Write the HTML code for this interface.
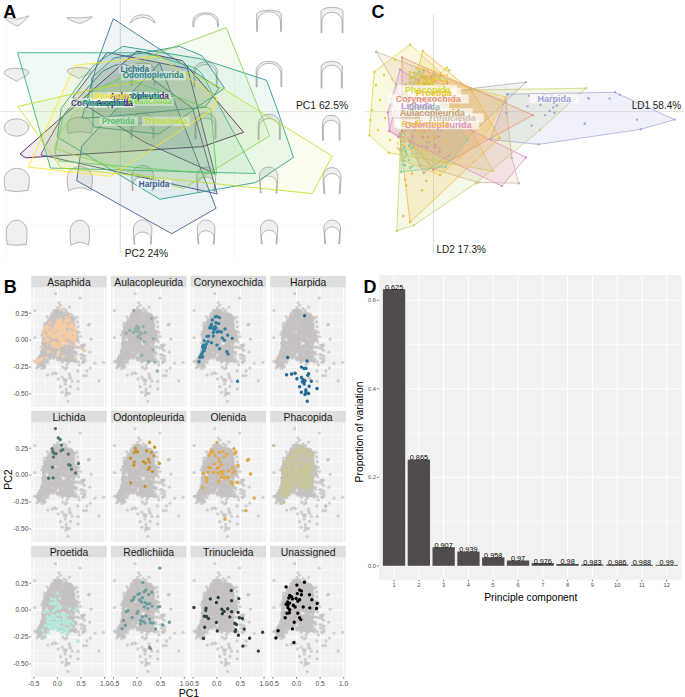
<!DOCTYPE html>
<html><head><meta charset="utf-8"><style>
html,body{margin:0;padding:0;background:#fff;overflow:hidden;}
svg{display:block;}
text{font-family:"Liberation Sans",sans-serif;}
</style></head><body>
<svg width="685" height="697" viewBox="0 0 685 697" font-family="Liberation Sans, sans-serif">
<defs><g id="cloud" fill="#c6c2c2" fill-opacity="0.75"><circle cx="29.5" cy="40.6" r="1.65"/><circle cx="31.7" cy="42.8" r="1.65"/><circle cx="17.0" cy="72.1" r="1.65"/><circle cx="35.1" cy="41.1" r="1.65"/><circle cx="37.4" cy="44.9" r="1.65"/><circle cx="17.3" cy="56.0" r="1.65"/><circle cx="24.9" cy="36.0" r="1.65"/><circle cx="13.4" cy="55.2" r="1.65"/><circle cx="40.1" cy="35.2" r="1.65"/><circle cx="23.0" cy="68.0" r="1.65"/><circle cx="42.1" cy="55.1" r="1.65"/><circle cx="38.2" cy="56.6" r="1.65"/><circle cx="31.9" cy="46.9" r="1.65"/><circle cx="26.1" cy="61.5" r="1.65"/><circle cx="21.2" cy="61.8" r="1.65"/><circle cx="15.3" cy="44.1" r="1.65"/><circle cx="12.8" cy="48.9" r="1.65"/><circle cx="32.4" cy="33.4" r="1.65"/><circle cx="20.3" cy="54.6" r="1.65"/><circle cx="28.4" cy="58.2" r="1.65"/><circle cx="21.6" cy="42.9" r="1.65"/><circle cx="33.8" cy="25.4" r="1.65"/><circle cx="25.6" cy="48.9" r="1.65"/><circle cx="18.8" cy="33.5" r="1.65"/><circle cx="29.1" cy="25.3" r="1.65"/><circle cx="14.4" cy="40.7" r="1.65"/><circle cx="9.2" cy="69.0" r="1.65"/><circle cx="29.3" cy="69.5" r="1.65"/><circle cx="12.5" cy="51.2" r="1.65"/><circle cx="14.3" cy="63.5" r="1.65"/><circle cx="46.2" cy="48.6" r="1.65"/><circle cx="35.9" cy="71.0" r="1.65"/><circle cx="41.3" cy="48.5" r="1.65"/><circle cx="9.8" cy="70.2" r="1.65"/><circle cx="18.3" cy="71.1" r="1.65"/><circle cx="39.9" cy="26.9" r="1.65"/><circle cx="8.0" cy="72.9" r="1.65"/><circle cx="19.3" cy="53.4" r="1.65"/><circle cx="13.2" cy="56.1" r="1.65"/><circle cx="14.3" cy="44.3" r="1.65"/><circle cx="7.2" cy="78.7" r="1.65"/><circle cx="19.5" cy="47.1" r="1.65"/><circle cx="27.6" cy="52.2" r="1.65"/><circle cx="24.2" cy="27.8" r="1.65"/><circle cx="39.9" cy="54.0" r="1.65"/><circle cx="17.9" cy="51.3" r="1.65"/><circle cx="30.5" cy="69.9" r="1.65"/><circle cx="42.5" cy="50.5" r="1.65"/><circle cx="30.9" cy="68.2" r="1.65"/><circle cx="33.7" cy="50.4" r="1.65"/><circle cx="28.2" cy="63.5" r="1.65"/><circle cx="24.9" cy="52.3" r="1.65"/><circle cx="21.9" cy="49.1" r="1.65"/><circle cx="28.4" cy="38.7" r="1.65"/><circle cx="30.5" cy="45.8" r="1.65"/><circle cx="34.3" cy="50.9" r="1.65"/><circle cx="31.4" cy="64.0" r="1.65"/><circle cx="37.9" cy="44.8" r="1.65"/><circle cx="34.9" cy="71.1" r="1.65"/><circle cx="25.0" cy="38.7" r="1.65"/><circle cx="29.0" cy="31.7" r="1.65"/><circle cx="17.2" cy="36.4" r="1.65"/><circle cx="41.8" cy="35.3" r="1.65"/><circle cx="27.5" cy="27.5" r="1.65"/><circle cx="40.3" cy="53.6" r="1.65"/><circle cx="45.0" cy="45.3" r="1.65"/><circle cx="21.6" cy="50.5" r="1.65"/><circle cx="38.9" cy="59.5" r="1.65"/><circle cx="22.3" cy="39.3" r="1.65"/><circle cx="16.1" cy="47.2" r="1.65"/><circle cx="17.0" cy="40.0" r="1.65"/><circle cx="26.1" cy="50.2" r="1.65"/><circle cx="32.2" cy="52.0" r="1.65"/><circle cx="41.3" cy="61.0" r="1.65"/><circle cx="21.4" cy="37.8" r="1.65"/><circle cx="39.8" cy="60.0" r="1.65"/><circle cx="40.4" cy="71.9" r="1.65"/><circle cx="37.6" cy="63.5" r="1.65"/><circle cx="5.8" cy="73.5" r="1.65"/><circle cx="30.7" cy="58.9" r="1.65"/><circle cx="34.4" cy="62.6" r="1.65"/><circle cx="27.7" cy="52.5" r="1.65"/><circle cx="40.5" cy="32.7" r="1.65"/><circle cx="40.1" cy="29.4" r="1.65"/><circle cx="27.2" cy="41.8" r="1.65"/><circle cx="26.3" cy="62.9" r="1.65"/><circle cx="42.2" cy="58.2" r="1.65"/><circle cx="40.9" cy="36.3" r="1.65"/><circle cx="37.0" cy="63.5" r="1.65"/><circle cx="37.2" cy="35.4" r="1.65"/><circle cx="28.4" cy="47.5" r="1.65"/><circle cx="25.6" cy="23.3" r="1.65"/><circle cx="24.7" cy="33.8" r="1.65"/><circle cx="11.6" cy="55.7" r="1.65"/><circle cx="45.1" cy="50.6" r="1.65"/><circle cx="12.7" cy="77.8" r="1.65"/><circle cx="24.8" cy="36.1" r="1.65"/><circle cx="20.5" cy="42.5" r="1.65"/><circle cx="19.8" cy="45.0" r="1.65"/><circle cx="5.6" cy="73.4" r="1.65"/><circle cx="28.1" cy="28.3" r="1.65"/><circle cx="40.3" cy="46.6" r="1.65"/><circle cx="41.4" cy="60.1" r="1.65"/><circle cx="26.0" cy="39.1" r="1.65"/><circle cx="16.4" cy="66.7" r="1.65"/><circle cx="36.1" cy="36.1" r="1.65"/><circle cx="30.7" cy="42.6" r="1.65"/><circle cx="11.4" cy="78.4" r="1.65"/><circle cx="27.3" cy="30.4" r="1.65"/><circle cx="24.7" cy="24.8" r="1.65"/><circle cx="41.2" cy="43.9" r="1.65"/><circle cx="22.8" cy="51.7" r="1.65"/><circle cx="20.7" cy="38.7" r="1.65"/><circle cx="27.7" cy="59.1" r="1.65"/><circle cx="22.0" cy="46.2" r="1.65"/><circle cx="28.7" cy="62.7" r="1.65"/><circle cx="35.6" cy="68.5" r="1.65"/><circle cx="25.2" cy="53.6" r="1.65"/><circle cx="35.5" cy="36.3" r="1.65"/><circle cx="35.0" cy="63.9" r="1.65"/><circle cx="28.8" cy="55.8" r="1.65"/><circle cx="21.3" cy="30.7" r="1.65"/><circle cx="16.6" cy="47.2" r="1.65"/><circle cx="27.4" cy="62.2" r="1.65"/><circle cx="23.1" cy="33.0" r="1.65"/><circle cx="18.6" cy="44.4" r="1.65"/><circle cx="37.5" cy="28.9" r="1.65"/><circle cx="27.8" cy="29.4" r="1.65"/><circle cx="12.2" cy="68.2" r="1.65"/><circle cx="27.3" cy="28.1" r="1.65"/><circle cx="36.5" cy="41.5" r="1.65"/><circle cx="20.6" cy="38.2" r="1.65"/><circle cx="15.4" cy="39.6" r="1.65"/><circle cx="45.2" cy="45.3" r="1.65"/><circle cx="18.6" cy="34.1" r="1.65"/><circle cx="14.4" cy="65.2" r="1.65"/><circle cx="17.4" cy="34.3" r="1.65"/><circle cx="12.9" cy="48.3" r="1.65"/><circle cx="21.3" cy="32.6" r="1.65"/><circle cx="23.6" cy="49.5" r="1.65"/><circle cx="33.4" cy="37.9" r="1.65"/><circle cx="17.6" cy="40.3" r="1.65"/><circle cx="10.9" cy="67.7" r="1.65"/><circle cx="39.0" cy="46.3" r="1.65"/><circle cx="12.9" cy="44.2" r="1.65"/><circle cx="34.1" cy="62.2" r="1.65"/><circle cx="31.2" cy="41.1" r="1.65"/><circle cx="40.6" cy="28.9" r="1.65"/><circle cx="8.4" cy="76.9" r="1.65"/><circle cx="31.8" cy="37.8" r="1.65"/><circle cx="27.9" cy="31.2" r="1.65"/><circle cx="14.3" cy="69.4" r="1.65"/><circle cx="32.8" cy="58.4" r="1.65"/><circle cx="14.0" cy="57.0" r="1.65"/><circle cx="35.8" cy="29.2" r="1.65"/><circle cx="37.3" cy="28.0" r="1.65"/><circle cx="43.7" cy="53.4" r="1.65"/><circle cx="21.7" cy="53.5" r="1.65"/><circle cx="22.5" cy="34.8" r="1.65"/><circle cx="17.2" cy="54.7" r="1.65"/><circle cx="19.6" cy="44.2" r="1.65"/><circle cx="20.0" cy="28.8" r="1.65"/><circle cx="40.0" cy="29.3" r="1.65"/><circle cx="25.3" cy="26.4" r="1.65"/><circle cx="20.4" cy="50.3" r="1.65"/><circle cx="43.2" cy="30.5" r="1.65"/><circle cx="28.5" cy="41.9" r="1.65"/><circle cx="33.0" cy="53.5" r="1.65"/><circle cx="34.5" cy="36.4" r="1.65"/><circle cx="23.1" cy="55.8" r="1.65"/><circle cx="23.4" cy="61.1" r="1.65"/><circle cx="24.6" cy="45.7" r="1.65"/><circle cx="26.9" cy="31.5" r="1.65"/><circle cx="42.0" cy="69.6" r="1.65"/><circle cx="25.2" cy="27.6" r="1.65"/><circle cx="26.0" cy="22.5" r="1.65"/><circle cx="40.3" cy="69.4" r="1.65"/><circle cx="27.7" cy="41.5" r="1.65"/><circle cx="40.3" cy="72.0" r="1.65"/><circle cx="27.8" cy="37.3" r="1.65"/><circle cx="9.3" cy="69.9" r="1.65"/><circle cx="35.0" cy="40.2" r="1.65"/><circle cx="34.6" cy="42.6" r="1.65"/><circle cx="19.8" cy="68.5" r="1.65"/><circle cx="24.3" cy="27.4" r="1.65"/><circle cx="32.2" cy="61.5" r="1.65"/><circle cx="33.9" cy="45.3" r="1.65"/><circle cx="12.3" cy="55.9" r="1.65"/><circle cx="32.4" cy="29.3" r="1.65"/><circle cx="34.3" cy="48.2" r="1.65"/><circle cx="22.1" cy="33.5" r="1.65"/><circle cx="30.9" cy="39.5" r="1.65"/><circle cx="35.5" cy="46.1" r="1.65"/><circle cx="22.3" cy="31.6" r="1.65"/><circle cx="27.9" cy="59.9" r="1.65"/><circle cx="17.0" cy="36.0" r="1.65"/><circle cx="43.1" cy="65.1" r="1.65"/><circle cx="41.0" cy="47.6" r="1.65"/><circle cx="40.8" cy="46.7" r="1.65"/><circle cx="18.5" cy="67.5" r="1.65"/><circle cx="39.1" cy="33.6" r="1.65"/><circle cx="30.5" cy="45.5" r="1.65"/><circle cx="43.4" cy="51.6" r="1.65"/><circle cx="14.6" cy="59.9" r="1.65"/><circle cx="41.0" cy="37.9" r="1.65"/><circle cx="34.7" cy="63.5" r="1.65"/><circle cx="24.0" cy="65.7" r="1.65"/><circle cx="31.4" cy="36.5" r="1.65"/><circle cx="11.7" cy="58.6" r="1.65"/><circle cx="38.1" cy="59.4" r="1.65"/><circle cx="38.3" cy="66.6" r="1.65"/><circle cx="34.9" cy="72.8" r="1.65"/><circle cx="34.7" cy="35.1" r="1.65"/><circle cx="41.7" cy="29.3" r="1.65"/><circle cx="17.6" cy="44.7" r="1.65"/><circle cx="15.5" cy="65.1" r="1.65"/><circle cx="20.2" cy="37.5" r="1.65"/><circle cx="24.0" cy="69.1" r="1.65"/><circle cx="19.1" cy="64.3" r="1.65"/><circle cx="29.6" cy="30.2" r="1.65"/><circle cx="27.0" cy="70.8" r="1.65"/><circle cx="38.5" cy="49.9" r="1.65"/><circle cx="38.3" cy="70.1" r="1.65"/><circle cx="34.5" cy="39.9" r="1.65"/><circle cx="22.1" cy="42.6" r="1.65"/><circle cx="12.8" cy="47.3" r="1.65"/><circle cx="29.2" cy="67.8" r="1.65"/><circle cx="41.4" cy="60.2" r="1.65"/><circle cx="19.2" cy="37.9" r="1.65"/><circle cx="8.5" cy="74.0" r="1.65"/><circle cx="36.4" cy="66.9" r="1.65"/><circle cx="42.5" cy="55.5" r="1.65"/><circle cx="28.7" cy="26.3" r="1.65"/><circle cx="40.3" cy="45.4" r="1.65"/><circle cx="38.1" cy="50.0" r="1.65"/><circle cx="34.8" cy="47.4" r="1.65"/><circle cx="22.3" cy="66.9" r="1.65"/><circle cx="31.6" cy="67.4" r="1.65"/><circle cx="23.2" cy="31.0" r="1.65"/><circle cx="42.6" cy="64.0" r="1.65"/><circle cx="35.3" cy="46.8" r="1.65"/><circle cx="17.2" cy="59.0" r="1.65"/><circle cx="43.0" cy="64.9" r="1.65"/><circle cx="34.6" cy="32.5" r="1.65"/><circle cx="23.3" cy="46.9" r="1.65"/><circle cx="34.2" cy="43.7" r="1.65"/><circle cx="42.8" cy="42.2" r="1.65"/><circle cx="8.8" cy="69.7" r="1.65"/><circle cx="29.8" cy="65.2" r="1.65"/><circle cx="28.2" cy="59.7" r="1.65"/><circle cx="45.6" cy="51.5" r="1.65"/><circle cx="11.6" cy="62.9" r="1.65"/><circle cx="21.6" cy="68.4" r="1.65"/><circle cx="15.1" cy="43.0" r="1.65"/><circle cx="23.1" cy="63.9" r="1.65"/><circle cx="19.4" cy="33.6" r="1.65"/><circle cx="12.3" cy="66.9" r="1.65"/><circle cx="12.0" cy="71.1" r="1.65"/><circle cx="21.6" cy="29.8" r="1.65"/><circle cx="25.8" cy="54.3" r="1.65"/><circle cx="19.4" cy="59.7" r="1.65"/><circle cx="25.7" cy="35.6" r="1.65"/><circle cx="30.2" cy="23.8" r="1.65"/><circle cx="20.7" cy="32.7" r="1.65"/><circle cx="23.4" cy="28.0" r="1.65"/><circle cx="16.6" cy="48.6" r="1.65"/><circle cx="23.6" cy="59.6" r="1.65"/><circle cx="36.3" cy="40.4" r="1.65"/><circle cx="7.7" cy="73.2" r="1.65"/><circle cx="36.1" cy="32.5" r="1.65"/><circle cx="12.9" cy="69.3" r="1.65"/><circle cx="9.2" cy="77.4" r="1.65"/><circle cx="33.5" cy="69.7" r="1.65"/><circle cx="10.9" cy="63.5" r="1.65"/><circle cx="29.2" cy="66.9" r="1.65"/><circle cx="30.5" cy="33.5" r="1.65"/><circle cx="25.7" cy="25.1" r="1.65"/><circle cx="27.0" cy="49.9" r="1.65"/><circle cx="25.7" cy="54.4" r="1.65"/><circle cx="20.6" cy="44.3" r="1.65"/><circle cx="35.0" cy="59.5" r="1.65"/><circle cx="28.1" cy="48.9" r="1.65"/><circle cx="39.5" cy="58.8" r="1.65"/><circle cx="20.1" cy="48.2" r="1.65"/><circle cx="28.9" cy="68.9" r="1.65"/><circle cx="23.2" cy="53.8" r="1.65"/><circle cx="45.5" cy="43.3" r="1.65"/><circle cx="27.7" cy="34.0" r="1.65"/><circle cx="36.0" cy="70.4" r="1.65"/><circle cx="18.2" cy="37.2" r="1.65"/><circle cx="16.5" cy="56.1" r="1.65"/><circle cx="34.9" cy="69.9" r="1.65"/><circle cx="36.2" cy="70.2" r="1.65"/><circle cx="33.9" cy="58.9" r="1.65"/><circle cx="38.3" cy="56.7" r="1.65"/><circle cx="37.5" cy="29.9" r="1.65"/><circle cx="36.7" cy="47.1" r="1.65"/><circle cx="36.1" cy="40.8" r="1.65"/><circle cx="30.9" cy="33.1" r="1.65"/><circle cx="16.6" cy="44.5" r="1.65"/><circle cx="17.5" cy="45.1" r="1.65"/><circle cx="35.4" cy="29.9" r="1.65"/><circle cx="39.6" cy="32.0" r="1.65"/><circle cx="40.3" cy="28.1" r="1.65"/><circle cx="34.6" cy="64.6" r="1.65"/><circle cx="17.1" cy="66.1" r="1.65"/><circle cx="9.1" cy="75.3" r="1.65"/><circle cx="20.2" cy="55.2" r="1.65"/><circle cx="24.1" cy="62.4" r="1.65"/><circle cx="8.0" cy="70.8" r="1.65"/><circle cx="20.0" cy="60.1" r="1.65"/><circle cx="34.6" cy="44.3" r="1.65"/><circle cx="31.2" cy="35.5" r="1.65"/><circle cx="38.7" cy="72.9" r="1.65"/><circle cx="18.3" cy="57.4" r="1.65"/><circle cx="33.1" cy="36.6" r="1.65"/><circle cx="20.7" cy="62.9" r="1.65"/><circle cx="23.2" cy="56.1" r="1.65"/><circle cx="31.5" cy="34.2" r="1.65"/><circle cx="30.5" cy="70.8" r="1.65"/><circle cx="11.0" cy="67.5" r="1.65"/><circle cx="33.4" cy="62.4" r="1.65"/><circle cx="25.6" cy="29.5" r="1.65"/><circle cx="14.0" cy="67.6" r="1.65"/><circle cx="43.5" cy="47.2" r="1.65"/><circle cx="42.5" cy="31.3" r="1.65"/><circle cx="26.2" cy="56.3" r="1.65"/><circle cx="20.0" cy="54.5" r="1.65"/><circle cx="22.1" cy="51.2" r="1.65"/><circle cx="32.8" cy="39.1" r="1.65"/><circle cx="31.2" cy="33.3" r="1.65"/><circle cx="42.9" cy="44.8" r="1.65"/><circle cx="32.9" cy="42.8" r="1.65"/><circle cx="14.1" cy="54.5" r="1.65"/><circle cx="36.8" cy="42.5" r="1.65"/><circle cx="24.7" cy="26.2" r="1.65"/><circle cx="14.1" cy="39.6" r="1.65"/><circle cx="37.2" cy="35.9" r="1.65"/><circle cx="32.5" cy="68.1" r="1.65"/><circle cx="26.5" cy="26.8" r="1.65"/><circle cx="39.4" cy="28.7" r="1.65"/><circle cx="24.9" cy="38.8" r="1.65"/><circle cx="45.3" cy="48.4" r="1.65"/><circle cx="34.6" cy="25.0" r="1.65"/><circle cx="39.3" cy="53.7" r="1.65"/><circle cx="8.0" cy="76.0" r="1.65"/><circle cx="14.7" cy="43.8" r="1.65"/><circle cx="36.8" cy="29.8" r="1.65"/><circle cx="26.3" cy="35.0" r="1.65"/><circle cx="40.0" cy="35.5" r="1.65"/><circle cx="45.8" cy="51.9" r="1.65"/><circle cx="31.4" cy="24.7" r="1.65"/><circle cx="9.9" cy="68.9" r="1.65"/><circle cx="39.1" cy="28.8" r="1.65"/><circle cx="33.5" cy="49.7" r="1.65"/><circle cx="33.7" cy="64.5" r="1.65"/><circle cx="40.3" cy="43.6" r="1.65"/><circle cx="10.2" cy="73.2" r="1.65"/><circle cx="20.4" cy="56.6" r="1.65"/><circle cx="24.5" cy="51.1" r="1.65"/><circle cx="17.7" cy="64.8" r="1.65"/><circle cx="21.0" cy="67.6" r="1.65"/><circle cx="28.2" cy="52.1" r="1.65"/><circle cx="13.8" cy="72.2" r="1.65"/><circle cx="38.4" cy="28.7" r="1.65"/><circle cx="31.7" cy="51.6" r="1.65"/><circle cx="27.1" cy="50.1" r="1.65"/><circle cx="21.4" cy="44.4" r="1.65"/><circle cx="46.2" cy="51.8" r="1.65"/><circle cx="42.7" cy="38.7" r="1.65"/><circle cx="13.7" cy="44.5" r="1.65"/><circle cx="34.8" cy="40.5" r="1.65"/><circle cx="23.8" cy="50.3" r="1.65"/><circle cx="35.3" cy="33.6" r="1.65"/><circle cx="37.3" cy="34.1" r="1.65"/><circle cx="34.2" cy="32.5" r="1.65"/><circle cx="28.6" cy="45.4" r="1.65"/><circle cx="16.8" cy="60.3" r="1.65"/><circle cx="14.8" cy="47.6" r="1.65"/><circle cx="29.4" cy="25.4" r="1.65"/><circle cx="16.1" cy="43.5" r="1.65"/><circle cx="31.4" cy="60.5" r="1.65"/><circle cx="11.1" cy="64.7" r="1.65"/><circle cx="25.3" cy="53.4" r="1.65"/><circle cx="33.7" cy="47.8" r="1.65"/><circle cx="12.2" cy="50.9" r="1.65"/><circle cx="21.1" cy="56.0" r="1.65"/><circle cx="30.6" cy="49.4" r="1.65"/><circle cx="16.3" cy="69.0" r="1.65"/><circle cx="24.2" cy="66.5" r="1.65"/><circle cx="19.4" cy="62.3" r="1.65"/><circle cx="45.2" cy="51.2" r="1.65"/><circle cx="40.6" cy="67.0" r="1.65"/><circle cx="41.8" cy="48.3" r="1.65"/><circle cx="42.1" cy="56.0" r="1.65"/><circle cx="31.5" cy="44.3" r="1.65"/><circle cx="33.4" cy="41.6" r="1.65"/><circle cx="24.9" cy="47.1" r="1.65"/><circle cx="39.8" cy="35.5" r="1.65"/><circle cx="21.5" cy="53.9" r="1.65"/><circle cx="21.1" cy="37.5" r="1.65"/><circle cx="27.5" cy="46.1" r="1.65"/><circle cx="31.1" cy="49.8" r="1.65"/><circle cx="28.5" cy="51.2" r="1.65"/><circle cx="37.7" cy="42.3" r="1.65"/><circle cx="19.7" cy="56.6" r="1.65"/><circle cx="37.2" cy="51.8" r="1.65"/><circle cx="22.0" cy="54.3" r="1.65"/><circle cx="24.2" cy="58.7" r="1.65"/><circle cx="29.2" cy="72.1" r="1.65"/><circle cx="28.2" cy="22.7" r="1.65"/><circle cx="28.1" cy="50.3" r="1.65"/><circle cx="34.7" cy="57.2" r="1.65"/><circle cx="16.9" cy="63.3" r="1.65"/><circle cx="36.7" cy="28.8" r="1.65"/><circle cx="27.4" cy="53.7" r="1.65"/><circle cx="14.6" cy="60.3" r="1.65"/><circle cx="31.6" cy="43.8" r="1.65"/><circle cx="33.7" cy="71.5" r="1.65"/><circle cx="42.4" cy="37.6" r="1.65"/><circle cx="39.4" cy="39.8" r="1.65"/><circle cx="32.0" cy="39.4" r="1.65"/><circle cx="24.7" cy="42.0" r="1.65"/><circle cx="24.2" cy="58.4" r="1.65"/><circle cx="13.4" cy="42.3" r="1.65"/><circle cx="39.5" cy="30.5" r="1.65"/><circle cx="26.6" cy="70.5" r="1.65"/><circle cx="29.4" cy="42.0" r="1.65"/><circle cx="6.8" cy="72.8" r="1.65"/><circle cx="19.3" cy="32.1" r="1.65"/><circle cx="36.5" cy="38.9" r="1.65"/><circle cx="19.4" cy="65.6" r="1.65"/><circle cx="27.8" cy="30.9" r="1.65"/><circle cx="24.9" cy="24.2" r="1.65"/><circle cx="38.9" cy="33.3" r="1.65"/><circle cx="20.2" cy="32.2" r="1.65"/><circle cx="33.5" cy="29.9" r="1.65"/><circle cx="28.2" cy="53.0" r="1.65"/><circle cx="14.9" cy="69.0" r="1.65"/><circle cx="21.2" cy="61.0" r="1.65"/><circle cx="31.2" cy="36.8" r="1.65"/><circle cx="9.7" cy="74.6" r="1.65"/><circle cx="17.7" cy="61.4" r="1.65"/><circle cx="19.9" cy="50.0" r="1.65"/><circle cx="15.5" cy="43.2" r="1.65"/><circle cx="36.5" cy="39.6" r="1.65"/><circle cx="22.7" cy="61.1" r="1.65"/><circle cx="38.5" cy="32.4" r="1.65"/><circle cx="34.6" cy="27.7" r="1.65"/><circle cx="40.4" cy="64.9" r="1.65"/><circle cx="16.7" cy="41.7" r="1.65"/><circle cx="35.1" cy="27.6" r="1.65"/><circle cx="39.4" cy="32.8" r="1.65"/><circle cx="23.9" cy="62.9" r="1.65"/><circle cx="38.2" cy="42.6" r="1.65"/><circle cx="41.1" cy="73.0" r="1.65"/><circle cx="40.6" cy="73.1" r="1.65"/><circle cx="34.5" cy="46.7" r="1.65"/><circle cx="23.6" cy="50.8" r="1.65"/><circle cx="38.7" cy="71.4" r="1.65"/><circle cx="14.4" cy="53.2" r="1.65"/><circle cx="29.9" cy="32.5" r="1.65"/><circle cx="22.6" cy="29.1" r="1.65"/><circle cx="38.9" cy="61.9" r="1.65"/><circle cx="28.3" cy="46.2" r="1.65"/><circle cx="30.2" cy="68.2" r="1.65"/><circle cx="32.9" cy="47.3" r="1.65"/><circle cx="19.8" cy="29.5" r="1.65"/><circle cx="10.8" cy="64.1" r="1.65"/><circle cx="24.6" cy="22.9" r="1.65"/><circle cx="17.8" cy="47.8" r="1.65"/><circle cx="23.9" cy="28.3" r="1.65"/><circle cx="35.9" cy="32.6" r="1.65"/><circle cx="9.3" cy="69.9" r="1.65"/><circle cx="20.3" cy="53.6" r="1.65"/><circle cx="31.2" cy="59.0" r="1.65"/><circle cx="27.2" cy="50.0" r="1.65"/><circle cx="37.8" cy="26.5" r="1.65"/><circle cx="24.2" cy="28.4" r="1.65"/><circle cx="43.3" cy="44.8" r="1.65"/><circle cx="15.6" cy="61.3" r="1.65"/><circle cx="28.3" cy="44.5" r="1.65"/><circle cx="18.6" cy="45.7" r="1.65"/><circle cx="36.6" cy="72.8" r="1.65"/><circle cx="16.3" cy="46.0" r="1.65"/><circle cx="31.0" cy="39.4" r="1.65"/><circle cx="17.8" cy="47.2" r="1.65"/><circle cx="37.2" cy="57.6" r="1.65"/><circle cx="16.3" cy="55.0" r="1.65"/><circle cx="35.6" cy="36.0" r="1.65"/><circle cx="37.3" cy="46.3" r="1.65"/><circle cx="20.5" cy="55.7" r="1.65"/><circle cx="22.9" cy="52.1" r="1.65"/><circle cx="31.1" cy="42.7" r="1.65"/><circle cx="6.2" cy="75.4" r="1.65"/><circle cx="29.2" cy="32.6" r="1.65"/><circle cx="26.9" cy="53.8" r="1.65"/><circle cx="12.5" cy="55.1" r="1.65"/><circle cx="30.3" cy="65.0" r="1.65"/><circle cx="21.6" cy="27.0" r="1.65"/><circle cx="38.9" cy="44.8" r="1.65"/><circle cx="9.2" cy="67.2" r="1.65"/><circle cx="18.8" cy="68.5" r="1.65"/><circle cx="37.4" cy="72.8" r="1.65"/><circle cx="30.2" cy="71.2" r="1.65"/><circle cx="37.1" cy="32.8" r="1.65"/><circle cx="16.0" cy="63.1" r="1.65"/><circle cx="37.9" cy="71.6" r="1.65"/><circle cx="10.0" cy="72.3" r="1.65"/><circle cx="37.4" cy="42.5" r="1.65"/><circle cx="26.2" cy="26.1" r="1.65"/><circle cx="11.9" cy="77.6" r="1.65"/><circle cx="25.7" cy="55.4" r="1.65"/><circle cx="21.3" cy="39.8" r="1.65"/><circle cx="36.9" cy="34.1" r="1.65"/><circle cx="15.0" cy="50.0" r="1.65"/><circle cx="14.4" cy="54.8" r="1.65"/><circle cx="30.8" cy="69.0" r="1.65"/><circle cx="34.8" cy="59.4" r="1.65"/><circle cx="20.0" cy="34.7" r="1.65"/><circle cx="16.7" cy="68.4" r="1.65"/><circle cx="40.7" cy="50.6" r="1.65"/><circle cx="34.9" cy="39.5" r="1.65"/><circle cx="30.3" cy="43.4" r="1.65"/><circle cx="26.5" cy="40.7" r="1.65"/><circle cx="24.9" cy="46.2" r="1.65"/><circle cx="31.3" cy="36.2" r="1.65"/><circle cx="16.6" cy="36.6" r="1.65"/><circle cx="40.0" cy="53.6" r="1.65"/><circle cx="19.6" cy="69.2" r="1.65"/><circle cx="38.7" cy="30.3" r="1.65"/><circle cx="22.0" cy="29.0" r="1.65"/><circle cx="35.6" cy="28.8" r="1.65"/><circle cx="18.0" cy="67.5" r="1.65"/><circle cx="35.7" cy="43.4" r="1.65"/><circle cx="37.3" cy="38.6" r="1.65"/><circle cx="18.4" cy="49.6" r="1.65"/><circle cx="32.9" cy="33.0" r="1.65"/><circle cx="33.8" cy="65.7" r="1.65"/><circle cx="44.8" cy="44.6" r="1.65"/><circle cx="29.6" cy="56.2" r="1.65"/><circle cx="30.5" cy="61.0" r="1.65"/><circle cx="33.1" cy="38.2" r="1.65"/><circle cx="40.8" cy="33.0" r="1.65"/><circle cx="39.1" cy="68.4" r="1.65"/><circle cx="42.7" cy="36.6" r="1.65"/><circle cx="24.9" cy="34.5" r="1.65"/><circle cx="26.2" cy="60.9" r="1.65"/><circle cx="42.6" cy="40.4" r="1.65"/><circle cx="30.5" cy="27.7" r="1.65"/><circle cx="42.8" cy="32.0" r="1.65"/><circle cx="35.0" cy="39.1" r="1.65"/><circle cx="44.0" cy="47.2" r="1.65"/><circle cx="14.4" cy="45.4" r="1.65"/><circle cx="41.8" cy="60.0" r="1.65"/><circle cx="11.9" cy="54.9" r="1.65"/><circle cx="8.6" cy="75.4" r="1.65"/><circle cx="41.3" cy="72.6" r="1.65"/><circle cx="15.5" cy="38.2" r="1.65"/><circle cx="32.9" cy="46.7" r="1.65"/><circle cx="11.5" cy="76.8" r="1.65"/><circle cx="19.8" cy="69.6" r="1.65"/><circle cx="12.9" cy="70.4" r="1.65"/><circle cx="27.8" cy="31.2" r="1.65"/><circle cx="27.5" cy="22.9" r="1.65"/><circle cx="19.4" cy="49.7" r="1.65"/><circle cx="22.4" cy="54.0" r="1.65"/><circle cx="37.8" cy="60.7" r="1.65"/><circle cx="29.9" cy="53.4" r="1.65"/><circle cx="22.0" cy="37.3" r="1.65"/><circle cx="21.3" cy="42.0" r="1.65"/><circle cx="22.5" cy="25.0" r="1.65"/><circle cx="14.0" cy="57.8" r="1.65"/><circle cx="20.7" cy="31.9" r="1.65"/><circle cx="38.2" cy="37.7" r="1.65"/><circle cx="35.5" cy="53.4" r="1.65"/><circle cx="12.9" cy="59.1" r="1.65"/><circle cx="40.9" cy="41.5" r="1.65"/><circle cx="39.2" cy="42.5" r="1.65"/><circle cx="28.9" cy="57.9" r="1.65"/><circle cx="37.2" cy="37.5" r="1.65"/><circle cx="34.6" cy="53.0" r="1.65"/><circle cx="12.3" cy="57.9" r="1.65"/><circle cx="26.0" cy="65.5" r="1.65"/><circle cx="28.7" cy="48.4" r="1.65"/><circle cx="28.8" cy="51.9" r="1.65"/><circle cx="9.5" cy="72.5" r="1.65"/><circle cx="25.3" cy="59.8" r="1.65"/><circle cx="44.2" cy="51.5" r="1.65"/><circle cx="38.2" cy="46.5" r="1.65"/><circle cx="26.3" cy="70.9" r="1.65"/><circle cx="37.4" cy="40.7" r="1.65"/><circle cx="28.6" cy="31.6" r="1.65"/><circle cx="20.4" cy="38.8" r="1.65"/><circle cx="39.5" cy="34.2" r="1.65"/><circle cx="17.8" cy="31.9" r="1.65"/><circle cx="24.3" cy="40.7" r="1.65"/><circle cx="39.2" cy="35.7" r="1.65"/><circle cx="22.4" cy="60.4" r="1.65"/><circle cx="21.2" cy="55.5" r="1.65"/><circle cx="20.5" cy="61.6" r="1.65"/><circle cx="41.6" cy="41.6" r="1.65"/><circle cx="28.9" cy="49.8" r="1.65"/><circle cx="25.4" cy="47.4" r="1.65"/><circle cx="24.2" cy="49.4" r="1.65"/><circle cx="36.9" cy="66.8" r="1.65"/><circle cx="37.4" cy="53.8" r="1.65"/><circle cx="42.3" cy="68.9" r="1.65"/><circle cx="41.4" cy="54.5" r="1.65"/><circle cx="39.1" cy="48.8" r="1.65"/><circle cx="23.0" cy="55.9" r="1.65"/><circle cx="18.4" cy="51.3" r="1.65"/><circle cx="17.2" cy="32.9" r="1.65"/><circle cx="28.1" cy="44.4" r="1.65"/><circle cx="29.5" cy="41.2" r="1.65"/><circle cx="25.5" cy="49.2" r="1.65"/><circle cx="32.1" cy="40.6" r="1.65"/><circle cx="29.3" cy="43.6" r="1.65"/><circle cx="31.1" cy="37.6" r="1.65"/><circle cx="15.0" cy="70.7" r="1.65"/><circle cx="16.0" cy="64.7" r="1.65"/><circle cx="32.8" cy="27.6" r="1.65"/><circle cx="44.0" cy="49.9" r="1.65"/><circle cx="37.1" cy="62.2" r="1.65"/><circle cx="22.8" cy="61.1" r="1.65"/><circle cx="32.0" cy="37.3" r="1.65"/><circle cx="30.8" cy="25.8" r="1.65"/><circle cx="20.9" cy="59.9" r="1.65"/><circle cx="12.3" cy="53.2" r="1.65"/><circle cx="40.1" cy="45.1" r="1.65"/><circle cx="16.0" cy="39.4" r="1.65"/><circle cx="41.3" cy="49.8" r="1.65"/><circle cx="32.9" cy="52.9" r="1.65"/><circle cx="18.3" cy="46.5" r="1.65"/><circle cx="13.6" cy="67.0" r="1.65"/><circle cx="9.8" cy="70.1" r="1.65"/><circle cx="30.3" cy="70.2" r="1.65"/><circle cx="32.8" cy="47.3" r="1.65"/><circle cx="19.4" cy="41.2" r="1.65"/><circle cx="36.5" cy="26.5" r="1.65"/><circle cx="27.3" cy="52.5" r="1.65"/><circle cx="27.9" cy="40.7" r="1.65"/><circle cx="13.2" cy="76.0" r="1.65"/><circle cx="26.9" cy="70.4" r="1.65"/><circle cx="31.4" cy="63.2" r="1.65"/><circle cx="12.6" cy="67.5" r="1.65"/><circle cx="28.5" cy="35.4" r="1.65"/><circle cx="31.8" cy="31.4" r="1.65"/><circle cx="32.7" cy="69.9" r="1.65"/><circle cx="13.5" cy="56.9" r="1.65"/><circle cx="34.0" cy="63.4" r="1.65"/><circle cx="44.6" cy="47.3" r="1.65"/><circle cx="13.5" cy="66.4" r="1.65"/><circle cx="26.4" cy="49.8" r="1.65"/><circle cx="41.3" cy="59.5" r="1.65"/><circle cx="32.5" cy="45.5" r="1.65"/><circle cx="13.9" cy="73.7" r="1.65"/><circle cx="25.2" cy="31.6" r="1.65"/><circle cx="37.7" cy="64.7" r="1.65"/><circle cx="35.9" cy="73.5" r="1.65"/><circle cx="18.7" cy="56.6" r="1.65"/><circle cx="44.7" cy="44.3" r="1.65"/><circle cx="33.3" cy="47.0" r="1.65"/><circle cx="34.1" cy="35.4" r="1.65"/><circle cx="38.6" cy="45.9" r="1.65"/><circle cx="36.4" cy="71.5" r="1.65"/><circle cx="12.3" cy="77.3" r="1.65"/><circle cx="21.7" cy="50.0" r="1.65"/><circle cx="19.9" cy="61.3" r="1.65"/><circle cx="34.8" cy="41.3" r="1.65"/><circle cx="28.7" cy="62.4" r="1.65"/><circle cx="37.6" cy="54.0" r="1.65"/><circle cx="24.6" cy="67.6" r="1.65"/><circle cx="21.6" cy="67.3" r="1.65"/><circle cx="35.3" cy="34.7" r="1.65"/><circle cx="41.9" cy="35.4" r="1.65"/><circle cx="29.9" cy="44.4" r="1.65"/><circle cx="39.0" cy="63.4" r="1.65"/><circle cx="31.6" cy="72.8" r="1.65"/><circle cx="16.4" cy="41.8" r="1.65"/><circle cx="17.6" cy="45.7" r="1.65"/><circle cx="21.7" cy="42.0" r="1.65"/><circle cx="11.2" cy="78.6" r="1.65"/><circle cx="35.0" cy="69.5" r="1.65"/><circle cx="41.6" cy="47.9" r="1.65"/><circle cx="30.7" cy="61.9" r="1.65"/><circle cx="41.4" cy="34.3" r="1.65"/><circle cx="29.1" cy="35.2" r="1.65"/><circle cx="34.7" cy="33.2" r="1.65"/><circle cx="41.5" cy="62.5" r="1.65"/><circle cx="34.9" cy="63.4" r="1.65"/><circle cx="42.6" cy="42.6" r="1.65"/><circle cx="18.8" cy="42.5" r="1.65"/><circle cx="10.2" cy="76.0" r="1.65"/><circle cx="29.2" cy="51.5" r="1.65"/><circle cx="36.7" cy="55.4" r="1.65"/><circle cx="22.2" cy="55.2" r="1.65"/><circle cx="15.1" cy="74.1" r="1.65"/><circle cx="41.5" cy="50.0" r="1.65"/><circle cx="40.9" cy="72.5" r="1.65"/><circle cx="38.7" cy="57.9" r="1.65"/><circle cx="33.2" cy="72.7" r="1.65"/><circle cx="30.5" cy="71.5" r="1.65"/><circle cx="34.6" cy="38.8" r="1.65"/><circle cx="18.2" cy="54.8" r="1.65"/><circle cx="12.0" cy="70.5" r="1.65"/><circle cx="11.5" cy="73.8" r="1.65"/><circle cx="44.5" cy="52.6" r="1.65"/><circle cx="34.7" cy="65.7" r="1.65"/><circle cx="32.2" cy="43.0" r="1.65"/><circle cx="28.2" cy="56.2" r="1.65"/><circle cx="12.4" cy="75.7" r="1.65"/><circle cx="26.3" cy="24.4" r="1.65"/><circle cx="25.0" cy="62.8" r="1.65"/><circle cx="39.0" cy="46.8" r="1.65"/><circle cx="22.2" cy="34.8" r="1.65"/><circle cx="10.7" cy="66.5" r="1.65"/><circle cx="28.4" cy="45.7" r="1.65"/><circle cx="10.9" cy="64.3" r="1.65"/><circle cx="30.8" cy="64.1" r="1.65"/><circle cx="39.7" cy="65.4" r="1.65"/><circle cx="39.7" cy="59.1" r="1.65"/><circle cx="14.5" cy="39.9" r="1.65"/><circle cx="44.2" cy="46.9" r="1.65"/><circle cx="8.5" cy="69.4" r="1.65"/><circle cx="31.0" cy="50.6" r="1.65"/><circle cx="40.3" cy="41.9" r="1.65"/><circle cx="11.8" cy="56.0" r="1.65"/><circle cx="26.6" cy="59.8" r="1.65"/><circle cx="25.1" cy="56.0" r="1.65"/><circle cx="35.0" cy="64.5" r="1.65"/><circle cx="25.9" cy="43.0" r="1.65"/><circle cx="37.0" cy="65.0" r="1.65"/><circle cx="13.2" cy="60.5" r="1.65"/><circle cx="38.1" cy="48.0" r="1.65"/><circle cx="7.8" cy="78.6" r="1.65"/><circle cx="34.9" cy="66.9" r="1.65"/><circle cx="12.1" cy="62.0" r="1.65"/><circle cx="10.3" cy="71.5" r="1.65"/><circle cx="30.6" cy="72.5" r="1.65"/><circle cx="27.6" cy="58.4" r="1.65"/><circle cx="32.7" cy="71.0" r="1.65"/><circle cx="30.0" cy="35.4" r="1.65"/><circle cx="25.2" cy="23.6" r="1.65"/><circle cx="35.8" cy="29.5" r="1.65"/><circle cx="20.2" cy="36.2" r="1.65"/><circle cx="38.1" cy="56.9" r="1.65"/><circle cx="28.6" cy="46.9" r="1.65"/><circle cx="22.4" cy="57.8" r="1.65"/><circle cx="40.3" cy="70.8" r="1.65"/><circle cx="24.3" cy="64.5" r="1.65"/><circle cx="19.2" cy="37.7" r="1.65"/><circle cx="41.4" cy="34.2" r="1.65"/><circle cx="13.7" cy="43.9" r="1.65"/><circle cx="18.1" cy="68.9" r="1.65"/><circle cx="43.7" cy="52.2" r="1.65"/><circle cx="17.3" cy="58.9" r="1.65"/><circle cx="20.2" cy="52.6" r="1.65"/><circle cx="29.2" cy="60.5" r="1.65"/><circle cx="37.8" cy="63.3" r="1.65"/><circle cx="41.0" cy="67.7" r="1.65"/><circle cx="32.5" cy="60.9" r="1.65"/><circle cx="32.9" cy="63.6" r="1.65"/><circle cx="15.0" cy="68.9" r="1.65"/><circle cx="16.7" cy="43.6" r="1.65"/><circle cx="37.9" cy="46.1" r="1.65"/><circle cx="36.9" cy="34.4" r="1.65"/><circle cx="36.3" cy="56.1" r="1.65"/><circle cx="36.4" cy="27.6" r="1.65"/><circle cx="35.9" cy="54.9" r="1.65"/><circle cx="20.0" cy="65.6" r="1.65"/><circle cx="7.6" cy="70.2" r="1.65"/><circle cx="13.8" cy="40.6" r="1.65"/><circle cx="28.8" cy="22.8" r="1.65"/><circle cx="13.7" cy="70.7" r="1.65"/><circle cx="15.7" cy="41.7" r="1.65"/><circle cx="42.1" cy="30.7" r="1.65"/><circle cx="21.1" cy="40.6" r="1.65"/><circle cx="35.3" cy="48.0" r="1.65"/><circle cx="36.5" cy="73.5" r="1.65"/><circle cx="24.1" cy="23.1" r="1.65"/><circle cx="25.3" cy="64.8" r="1.65"/><circle cx="26.4" cy="27.2" r="1.65"/><circle cx="12.7" cy="45.8" r="1.65"/><circle cx="19.9" cy="47.8" r="1.65"/><circle cx="40.9" cy="54.4" r="1.65"/><circle cx="24.9" cy="37.2" r="1.65"/><circle cx="11.3" cy="61.4" r="1.65"/><circle cx="35.9" cy="51.0" r="1.65"/><circle cx="40.7" cy="52.6" r="1.65"/><circle cx="12.9" cy="49.9" r="1.65"/><circle cx="33.3" cy="60.6" r="1.65"/><circle cx="8.0" cy="71.3" r="1.65"/><circle cx="12.5" cy="56.9" r="1.65"/><circle cx="24.1" cy="24.8" r="1.65"/><circle cx="10.5" cy="67.4" r="1.65"/><circle cx="22.1" cy="62.5" r="1.65"/><circle cx="12.8" cy="48.4" r="1.65"/><circle cx="34.2" cy="30.1" r="1.65"/><circle cx="17.7" cy="43.5" r="1.65"/><circle cx="18.9" cy="61.8" r="1.65"/><circle cx="8.9" cy="73.0" r="1.65"/><circle cx="14.2" cy="46.8" r="1.65"/><circle cx="30.9" cy="64.8" r="1.65"/><circle cx="28.7" cy="55.7" r="1.65"/><circle cx="32.2" cy="46.7" r="1.65"/><circle cx="15.9" cy="35.2" r="1.65"/><circle cx="23.1" cy="52.1" r="1.65"/><circle cx="35.9" cy="50.9" r="1.65"/><circle cx="36.2" cy="56.0" r="1.65"/><circle cx="31.4" cy="27.7" r="1.65"/><circle cx="38.1" cy="32.9" r="1.65"/><circle cx="28.8" cy="62.4" r="1.65"/><circle cx="34.3" cy="48.0" r="1.65"/><circle cx="37.0" cy="71.0" r="1.65"/><circle cx="37.3" cy="64.6" r="1.65"/><circle cx="35.6" cy="27.6" r="1.65"/><circle cx="12.8" cy="45.1" r="1.65"/><circle cx="40.4" cy="40.2" r="1.65"/><circle cx="36.5" cy="68.7" r="1.65"/><circle cx="22.3" cy="44.5" r="1.65"/><circle cx="19.6" cy="64.3" r="1.65"/><circle cx="24.0" cy="27.3" r="1.65"/><circle cx="37.2" cy="26.3" r="1.65"/><circle cx="35.3" cy="59.4" r="1.65"/><circle cx="10.8" cy="68.6" r="1.65"/><circle cx="32.4" cy="28.9" r="1.65"/><circle cx="39.9" cy="34.1" r="1.65"/><circle cx="14.6" cy="64.8" r="1.65"/><circle cx="18.4" cy="51.6" r="1.65"/><circle cx="17.6" cy="44.2" r="1.65"/><circle cx="26.3" cy="33.1" r="1.65"/><circle cx="34.3" cy="63.8" r="1.65"/><circle cx="14.5" cy="70.4" r="1.65"/><circle cx="40.1" cy="38.9" r="1.65"/><circle cx="27.0" cy="28.2" r="1.65"/><circle cx="38.1" cy="42.0" r="1.65"/><circle cx="39.4" cy="31.1" r="1.65"/><circle cx="10.5" cy="64.5" r="1.65"/><circle cx="36.5" cy="54.6" r="1.65"/><circle cx="34.9" cy="31.9" r="1.65"/><circle cx="14.2" cy="44.6" r="1.65"/><circle cx="29.3" cy="65.7" r="1.65"/><circle cx="35.2" cy="63.4" r="1.65"/><circle cx="36.4" cy="33.3" r="1.65"/><circle cx="42.4" cy="72.9" r="1.65"/><circle cx="17.4" cy="65.5" r="1.65"/><circle cx="28.3" cy="25.6" r="1.65"/><circle cx="25.4" cy="28.8" r="1.65"/><circle cx="28.7" cy="40.4" r="1.65"/><circle cx="50.4" cy="70.6" r="1.65"/><circle cx="52.1" cy="74.8" r="1.65"/><circle cx="51.5" cy="74.4" r="1.65"/><circle cx="44.8" cy="64.8" r="1.65"/><circle cx="53.5" cy="68.6" r="1.65"/><circle cx="53.1" cy="57.4" r="1.65"/><circle cx="49.0" cy="60.2" r="1.65"/><circle cx="49.7" cy="67.1" r="1.65"/><circle cx="44.6" cy="59.6" r="1.65"/><circle cx="47.2" cy="74.2" r="1.65"/><circle cx="51.8" cy="58.4" r="1.65"/><circle cx="52.1" cy="57.9" r="1.65"/><circle cx="50.4" cy="57.7" r="1.65"/><circle cx="44.5" cy="73.3" r="1.65"/><circle cx="46.5" cy="59.5" r="1.65"/><circle cx="53.8" cy="73.3" r="1.65"/><circle cx="28.6" cy="22.8" r="1.65"/><circle cx="32.6" cy="21.4" r="1.65"/><circle cx="27.3" cy="22.7" r="1.65"/><circle cx="35.1" cy="22.8" r="1.65"/><circle cx="38.3" cy="19.5" r="1.65"/><circle cx="24.3" cy="6.1" r="1.65"/><circle cx="48.9" cy="10.5" r="1.65"/><circle cx="3.6" cy="23.0" r="1.65"/><circle cx="3.6" cy="50.0" r="1.65"/><circle cx="59.9" cy="51.6" r="1.65"/><circle cx="57.3" cy="37.4" r="1.65"/><circle cx="58.1" cy="36.8" r="1.65"/><circle cx="27.5" cy="15.2" r="1.65"/><circle cx="29.3" cy="17.5" r="1.65"/><circle cx="26.7" cy="19.8" r="1.65"/><circle cx="22.9" cy="22.8" r="1.65"/><circle cx="20.5" cy="26.3" r="1.65"/><circle cx="15.9" cy="29.2" r="1.65"/><circle cx="13.5" cy="35.6" r="1.65"/><circle cx="12.9" cy="38.5" r="1.65"/><circle cx="11.8" cy="44.4" r="1.65"/><circle cx="10.6" cy="47.3" r="1.65"/><circle cx="45.6" cy="29.8" r="1.65"/><circle cx="46.2" cy="34.4" r="1.65"/><circle cx="46.8" cy="39.1" r="1.65"/><circle cx="48.0" cy="44.9" r="1.65"/><circle cx="49.2" cy="49.0" r="1.65"/><circle cx="47.4" cy="54.3" r="1.65"/><circle cx="5.7" cy="80.2" r="1.65"/><circle cx="10.6" cy="80.8" r="1.65"/><circle cx="12.9" cy="80.2" r="1.65"/><circle cx="14.1" cy="79.0" r="1.65"/><circle cx="16.5" cy="74.9" r="1.65"/><circle cx="22.3" cy="70.8" r="1.65"/><circle cx="27.0" cy="72.6" r="1.65"/><circle cx="31.0" cy="74.7" r="1.65"/><circle cx="31.6" cy="79.6" r="1.65"/><circle cx="34.0" cy="81.3" r="1.65"/><circle cx="35.7" cy="80.2" r="1.65"/><circle cx="35.7" cy="77.3" r="1.65"/><circle cx="37.5" cy="74.9" r="1.65"/><circle cx="38.6" cy="72.6" r="1.65"/><circle cx="43.9" cy="74.3" r="1.65"/><circle cx="44.5" cy="71.4" r="1.65"/><circle cx="45.1" cy="66.7" r="1.65"/><circle cx="48.0" cy="77.3" r="1.65"/><circle cx="51.5" cy="67.3" r="1.65"/><circle cx="53.2" cy="71.4" r="1.65"/><circle cx="51.5" cy="60.9" r="1.65"/><circle cx="53.2" cy="62.7" r="1.65"/><circle cx="58.5" cy="64.6" r="1.65"/><circle cx="63.7" cy="75.5" r="1.65"/><circle cx="72.3" cy="74.7" r="1.65"/><circle cx="59.1" cy="80.5" r="1.65"/><circle cx="55.6" cy="83.3" r="1.65"/><circle cx="52.4" cy="88.0" r="1.65"/><circle cx="55.2" cy="88.0" r="1.65"/><circle cx="46.5" cy="83.3" r="1.65"/><circle cx="46.8" cy="93.8" r="1.65"/><circle cx="46.8" cy="101.2" r="1.65"/><circle cx="67.8" cy="93.3" r="1.65"/><circle cx="16.5" cy="87.5" r="1.65"/><circle cx="21.1" cy="86.4" r="1.65"/><circle cx="23.5" cy="85.2" r="1.65"/><circle cx="25.2" cy="86.0" r="1.65"/><circle cx="27.0" cy="91.3" r="1.65"/><circle cx="31.0" cy="89.5" r="1.65"/><circle cx="32.8" cy="91.9" r="1.65"/><circle cx="34.0" cy="93.6" r="1.65"/><circle cx="35.1" cy="92.4" r="1.65"/><circle cx="38.1" cy="86.4" r="1.65"/><circle cx="38.6" cy="88.9" r="1.65"/><circle cx="39.2" cy="90.7" r="1.65"/><circle cx="41.0" cy="93.6" r="1.65"/><circle cx="34.0" cy="96.5" r="1.65"/><circle cx="29.3" cy="99.1" r="1.65"/><circle cx="39.2" cy="98.9" r="1.65"/><circle cx="31.0" cy="104.7" r="1.65"/><circle cx="35.1" cy="101.8" r="1.65"/><circle cx="35.1" cy="104.7" r="1.65"/><circle cx="36.3" cy="105.9" r="1.65"/><circle cx="34.6" cy="107.6" r="1.65"/><circle cx="38.1" cy="105.9" r="1.65"/><circle cx="36.9" cy="113.8" r="1.65"/><circle cx="3.6" cy="73.8" r="1.65"/><circle cx="7.1" cy="76.1" r="1.65"/><circle cx="9.4" cy="74.9" r="1.65"/></g></defs>
<rect width="685" height="697" fill="#fff"/>
<g stroke="#d8d8d8" stroke-width="0.6" stroke-dasharray="0.8,1.6">
<line x1="6.3" y1="0" x2="6.3" y2="258"/>
<line x1="234.4" y1="0" x2="234.4" y2="258"/>
<line x1="0" y1="225.6" x2="350" y2="225.6"/>
</g>
<g><path d="M5.1,17.5 Q12.2,18.5 17.0,19.1 Q21.8,18.5 28.9,15.8 Q27.7,18.5 19.4,25.0 Q17.0,26.6 14.6,25.0 Q6.3,20.7 5.1,17.5 Z" fill="#efefef" stroke="#8a8a8a" stroke-width="0.6"/><path d="M66.9,17.8 Q74.6,17.5 79.7,17.8 Q84.8,17.5 92.5,16.8 Q91.2,18.5 82.3,22.8 Q79.7,23.9 77.1,22.8 Q68.2,19.9 66.9,17.8 Z" fill="#efefef" stroke="#8a8a8a" stroke-width="0.6"/><path d="M130.3,23.0 Q132.8,14.8 142.8,14.8 Q152.8,14.8 155.3,23.0 Q142.8,11.5 130.3,23.0 Z" fill="#efefef" stroke="#8a8a8a" stroke-width="0.6"/><path d="M192.9,26.8 L192.9,21.7 C192.9,16.4 198.0,12.8 205.7,12.8 C213.3,12.8 218.4,16.4 218.4,21.7 L218.4,26.8 L217.5,26.8 L217.5,24.9 C217.5,19.0 212.2,14.2 205.7,14.2 C199.1,14.2 193.8,19.0 193.8,24.9 L193.8,26.8 Z" fill="#efefef" stroke="#8a8a8a" stroke-width="0.6"/><path d="M256.6,31.4 L256.6,14.5 C256.6,12.2 262.2,10.2 269.0,10.2 C275.8,10.2 281.4,12.2 281.4,14.5 L281.4,31.4 L280.5,31.4 L280.5,22.0 C280.5,16.3 275.3,11.7 269.0,11.7 C262.7,11.7 257.5,16.3 257.5,22.0 L257.5,31.4 Z" fill="#efefef" stroke="#8a8a8a" stroke-width="0.6"/><path d="M321.0,32.8 L321.0,11.7 C321.0,9.3 325.9,7.3 332.0,7.3 C338.1,7.3 343.0,9.3 343.0,11.7 L343.0,32.8 L342.1,32.8 L342.1,21.5 C342.1,16.5 337.6,12.4 332.0,12.4 C326.4,12.4 321.9,16.5 321.9,21.5 L321.9,32.8 Z" fill="#efefef" stroke="#8a8a8a" stroke-width="0.6"/><path d="M4.2,72.5 C4.2,66.9 28.8,66.9 28.8,72.5 C28.8,76.0 19.0,78.8 16.5,81.6 C14.0,78.8 4.2,76.0 4.2,72.5 Z" fill="#efefef" stroke="#8a8a8a" stroke-width="0.6"/><path d="M67.2,71.0 C67.2,66.2 91.0,66.2 91.0,71.0 C91.0,74.0 81.5,76.4 79.1,78.8 C76.7,76.4 67.2,74.0 67.2,71.0 Z" fill="#efefef" stroke="#8a8a8a" stroke-width="0.6"/><path d="M131.0,85.0 L131.0,75.0 C131.0,66.0 134.0,63.0 143.0,63.0 C152.0,63.0 155.0,66.0 155.0,75.0 L155.0,85.0 L154.1,85.0 L154.1,78.5 C154.1,73.0 149.1,68.5 143.0,68.5 C136.9,68.5 131.9,73.0 131.9,78.5 L131.9,85.0 Z" fill="#efefef" stroke="#8a8a8a" stroke-width="0.6"/><path d="M193.9,87.0 L193.9,71.3 C193.9,66.2 199.1,62.0 205.6,62.0 C212.0,62.0 217.2,66.2 217.2,71.3 L217.2,87.0 L216.3,87.0 L216.3,74.2 C216.3,68.9 211.5,64.5 205.6,64.5 C199.6,64.5 194.8,68.9 194.8,74.2 L194.8,87.0 Z" fill="#efefef" stroke="#8a8a8a" stroke-width="0.6"/><path d="M256.2,86.9 L256.2,70.3 C256.2,65.3 262.0,61.3 269.0,61.3 C276.0,61.3 281.8,65.3 281.8,70.3 L281.8,86.9 L280.9,86.9 L280.9,74.1 C280.9,68.2 275.5,63.3 269.0,63.3 C262.5,63.3 257.1,68.2 257.1,74.1 L257.1,86.9 Z" fill="#efefef" stroke="#8a8a8a" stroke-width="0.6"/><path d="M321.1,88.1 L321.1,67.7 C321.1,64.2 325.9,61.3 331.7,61.3 C337.5,61.3 342.3,64.2 342.3,67.7 L342.3,88.1 L341.4,88.1 L341.4,74.0 C341.4,69.2 337.0,65.3 331.7,65.3 C326.4,65.3 322.0,69.2 322.0,74.0 L322.0,88.1 Z" fill="#efefef" stroke="#8a8a8a" stroke-width="0.6"/><ellipse cx="16.5" cy="127.5" rx="12.3" ry="8.7" fill="#efefef" stroke="#8a8a8a" stroke-width="0.6"/><path d="M68.2,133.4 C67.5,131.0 67.2,127.7 67.2,125.2 C67.2,120.4 72.9,117.1 79.8,117.1 C86.7,117.1 92.4,120.4 92.4,125.2 C92.4,127.7 92.1,131.0 91.4,133.4 Q79.8,130.1 68.2,133.4 Z" fill="#efefef" stroke="#8a8a8a" stroke-width="0.6"/><path d="M131.0,138.0 L131.0,124.5 C131.0,117.6 135.6,113.0 142.5,113.0 C149.4,113.0 154.0,117.6 154.0,124.5 L154.0,138.0 L153.1,138.0 L153.1,132.5 C153.1,127.3 148.3,123.0 142.5,123.0 C136.7,123.0 131.9,127.3 131.9,132.5 L131.9,138.0 Z" fill="#efefef" stroke="#8a8a8a" stroke-width="0.6"/><path d="M195.0,139.0 L195.0,123.5 C195.0,117.2 199.2,113.0 205.5,113.0 C211.8,113.0 216.0,117.2 216.0,123.5 L216.0,139.0 L215.1,139.0 L215.1,126.8 C215.1,122.1 210.8,118.2 205.5,118.2 C200.2,118.2 195.9,122.1 195.9,126.8 L195.9,139.0 Z" fill="#efefef" stroke="#8a8a8a" stroke-width="0.6"/><path d="M258.2,139.4 L258.2,125.4 C258.2,118.7 262.6,114.3 269.2,114.3 C275.9,114.3 280.3,118.7 280.3,125.4 L280.3,139.4 L279.4,139.4 L279.4,127.7 C279.4,122.7 274.8,118.6 269.2,118.6 C263.7,118.6 259.1,122.7 259.1,127.7 L259.1,139.4 Z" fill="#efefef" stroke="#8a8a8a" stroke-width="0.6"/><path d="M322.5,140.4 L322.5,124.0 C322.5,118.8 326.0,115.3 331.2,115.3 C336.5,115.3 340.0,118.8 340.0,124.0 L340.0,140.4 L339.1,140.4 L339.1,127.4 C339.1,123.5 335.6,120.3 331.2,120.3 C326.9,120.3 323.4,123.5 323.4,127.4 L323.4,140.4 Z" fill="#efefef" stroke="#8a8a8a" stroke-width="0.6"/><path d="M5.7,190.4 C4.7,186.9 4.2,183.4 4.2,179.9 C4.2,173.0 9.9,168.3 16.8,168.3 C23.7,168.3 29.4,173.0 29.4,179.9 C29.4,183.4 28.9,186.9 27.9,190.4 Q16.8,192.8 5.7,190.4 Z" fill="#efefef" stroke="#8a8a8a" stroke-width="0.6"/><path d="M68.5,190.7 C67.6,187.1 67.2,182.2 67.2,178.6 C67.2,171.3 72.9,166.4 79.8,166.4 C86.7,166.4 92.4,171.3 92.4,178.6 C92.4,182.2 92.0,187.1 91.1,190.7 Q79.8,184.9 68.5,190.7 Z" fill="#efefef" stroke="#8a8a8a" stroke-width="0.6"/><path d="M132.3,190.4 L131.8,176.2 C131.8,170.2 136.7,165.3 142.7,165.3 C148.7,165.3 153.6,170.2 153.6,176.2 L153.1,190.4 L152.2,190.4 L152.7,185.6 C152.7,180.6 148.2,176.6 142.7,176.6 C137.2,176.6 132.7,180.6 132.7,185.6 L133.2,190.4 Z" fill="#efefef" stroke="#8a8a8a" stroke-width="0.6"/><path d="M197.4,192.0 L196.6,176.6 C196.6,171.3 200.9,167.0 206.1,167.0 C211.4,167.0 215.7,171.3 215.7,176.6 L214.9,192.0 L214.0,192.0 L214.8,184.8 C214.8,180.5 210.9,177.0 206.1,177.0 C201.4,177.0 197.5,180.5 197.5,184.8 L198.3,192.0 Z" fill="#efefef" stroke="#8a8a8a" stroke-width="0.6"/><path d="M260.3,193.0 L259.4,176.2 C259.4,171.1 263.5,167.0 268.6,167.0 C273.7,167.0 277.8,171.1 277.8,176.2 L276.9,193.0 L276.0,193.0 L276.9,183.6 C276.9,179.5 273.2,176.1 268.6,176.1 C264.0,176.1 260.3,179.5 260.3,183.6 L261.2,193.0 Z" fill="#efefef" stroke="#8a8a8a" stroke-width="0.6"/><path d="M323.9,193.8 L323.0,176.6 C323.0,171.7 327.1,167.6 332.0,167.6 C336.9,167.6 341.0,171.7 341.0,176.6 L340.1,193.8 L339.2,193.8 L340.1,180.9 C340.1,176.9 336.5,173.6 332.0,173.6 C327.5,173.6 323.9,176.9 323.9,180.9 L324.8,193.8 Z" fill="#efefef" stroke="#8a8a8a" stroke-width="0.6"/><path d="M7.2,244.5 C6.5,240.8 6.2,236.5 6.2,232.7 C6.2,225.1 10.9,220.1 16.7,220.1 C22.4,220.1 27.1,225.1 27.1,232.7 C27.1,236.5 26.8,240.8 26.1,244.5 Q16.7,246.1 7.2,244.5 Z" fill="#efefef" stroke="#8a8a8a" stroke-width="0.6"/><path d="M71.0,245.3 C70.3,241.5 70.0,236.5 70.0,232.7 C70.0,225.1 74.4,220.1 79.8,220.1 C85.2,220.1 89.6,225.1 89.6,232.7 C89.6,236.5 89.3,241.5 88.6,245.3 Q79.8,239.3 71.0,245.3 Z" fill="#efefef" stroke="#8a8a8a" stroke-width="0.6"/><path d="M134.1,244.2 L133.4,229.2 C133.4,224.2 137.6,220.0 142.7,220.0 C147.7,220.0 151.9,224.2 151.9,229.2 L151.2,244.2 L150.3,244.2 L151.0,239.6 C151.0,235.5 147.2,232.1 142.7,232.1 C138.1,232.1 134.3,235.5 134.3,239.6 L135.0,244.2 Z" fill="#efefef" stroke="#8a8a8a" stroke-width="0.6"/><path d="M198.1,244.0 L197.2,228.9 C197.2,224.0 201.2,220.0 206.1,220.0 C211.0,220.0 215.0,224.0 215.0,228.9 L214.1,244.0 L213.2,244.0 L214.1,238.0 C214.1,234.0 210.5,230.8 206.1,230.8 C201.7,230.8 198.1,234.0 198.1,238.0 L199.0,244.0 Z" fill="#efefef" stroke="#8a8a8a" stroke-width="0.6"/><path d="M261.4,244.0 L260.4,228.7 C260.4,223.9 264.3,220.0 269.1,220.0 C273.9,220.0 277.8,223.9 277.8,228.7 L276.8,244.0 L275.9,244.0 L276.9,237.3 C276.9,233.5 273.4,230.3 269.1,230.3 C264.8,230.3 261.3,233.5 261.3,237.3 L262.3,244.0 Z" fill="#efefef" stroke="#8a8a8a" stroke-width="0.6"/><path d="M324.8,244.0 L323.8,228.4 C323.8,223.8 327.6,220.0 332.2,220.0 C336.8,220.0 340.6,223.8 340.6,228.4 L339.6,244.0 L338.7,244.0 L339.7,233.7 C339.7,230.0 336.3,227.0 332.2,227.0 C328.1,227.0 324.7,230.0 324.7,233.7 L325.7,244.0 Z" fill="#efefef" stroke="#8a8a8a" stroke-width="0.6"/></g>
<line x1="120.3" y1="0" x2="120.3" y2="253" stroke="#c8c8c8" stroke-width="0.7"/>
<line x1="0" y1="111.6" x2="350" y2="111.6" stroke="#dcdcdc" stroke-width="0.7"/>
<polygon points="20.1,153.9 137.0,51.0 182.1,60.6 202.6,84.0 243.7,132.3 202.7,146.6 25.5,157.8" fill="#440154" fill-opacity="0.075" stroke="#440154" stroke-width="0.85"/>
<polygon points="72.8,97.5 107.2,52.4 187.6,68.5 214.7,173.5 144.1,142.0" fill="#482173" fill-opacity="0.075" stroke="#482173" stroke-width="0.85"/>
<polygon points="40.8,154.9 44.9,146.6 57.2,125.1 65.5,112.6 102.4,71.4 114.7,65.3 122.9,64.2 135.2,66.7 192.6,108.3 217.2,193.9" fill="#433e85" fill-opacity="0.075" stroke="#433e85" stroke-width="0.85"/>
<polygon points="76.7,180.7 81.6,146.3 159.5,63.1 216.1,208.3 171.8,233.7" fill="#38598c" fill-opacity="0.075" stroke="#38598c" stroke-width="0.85"/>
<polygon points="82.0,118.0 98.5,58.8 113.2,18.7 219.1,88.2 205.1,107.2 103.4,117.2" fill="#2d708e" fill-opacity="0.075" stroke="#2d708e" stroke-width="0.85"/>
<polygon points="91.6,77.8 113.8,58.1 179.4,46.3 202.4,56.0 224.5,88.2 158.9,134.1 93.3,126.9" fill="#25858e" fill-opacity="0.075" stroke="#25858e" stroke-width="0.85"/>
<polygon points="57.2,137.0 61.3,108.3 88.4,71.7 92.5,66.7 98.3,61.7 122.9,46.3 200.8,58.8 266.5,80.3 277.1,109.0 293.5,157.4 255.8,182.5 159.8,199.3" fill="#1e9b8a" fill-opacity="0.075" stroke="#1e9b8a" stroke-width="0.85"/>
<polygon points="17.6,52.7 143.4,52.8 147.0,53.6 153.1,55.2 154.1,55.4 190.8,66.5 197.0,69.0 201.9,73.6 255.5,173.5 50.4,168.1" fill="#2bb07f" fill-opacity="0.075" stroke="#2bb07f" stroke-width="0.85"/>
<polygon points="55.0,152.0 63.2,116.2 96.0,89.3 123.1,77.5 210.9,109.0 216.6,174.2 59.1,161.0" fill="#51c56a" fill-opacity="0.075" stroke="#51c56a" stroke-width="0.85"/>
<polygon points="53.9,148.4 60.4,132.3 72.8,114.4 97.4,92.9 149.1,56.3 226.2,27.7 269.7,135.9 183.5,188.6" fill="#85d54a" fill-opacity="0.075" stroke="#85d54a" stroke-width="0.85"/>
<polygon points="17.9,106.5 92.5,89.3 188.5,72.5 223.0,88.6 332.1,155.9 312.4,193.6 61.3,168.1" fill="#c2df23" fill-opacity="0.075" stroke="#c2df23" stroke-width="0.85"/>
<polygon points="28.3,167.1 75.0,65.3 158.7,56.0 217.0,98.3 214.5,108.3 110.3,176.4" fill="#fde725" fill-opacity="0.075" stroke="#fde725" stroke-width="0.85"/>
<rect x="94.0" y="98.3" width="40.9" height="9.2" fill="#fff" fill-opacity="0.42"/>
<rect x="107.7" y="92.2" width="63.2" height="9.2" fill="#fff" fill-opacity="0.42"/>
<rect x="69.1" y="98.3" width="63.2" height="9.2" fill="#fff" fill-opacity="0.42"/>
<rect x="136.8" y="179.5" width="34.5" height="9.2" fill="#fff" fill-opacity="0.42"/>
<rect x="118.4" y="64.3" width="32.7" height="9.2" fill="#fff" fill-opacity="0.42"/>
<rect x="120.7" y="71.1" width="65.1" height="9.2" fill="#fff" fill-opacity="0.42"/>
<rect x="128.2" y="91.8" width="35.4" height="9.2" fill="#fff" fill-opacity="0.42"/>
<rect x="80.5" y="98.3" width="44.1" height="9.2" fill="#fff" fill-opacity="0.42"/>
<rect x="99.8" y="116.7" width="38.2" height="9.2" fill="#fff" fill-opacity="0.42"/>
<rect x="126.1" y="96.7" width="47.7" height="9.2" fill="#fff" fill-opacity="0.42"/>
<rect x="142.2" y="116.7" width="47.3" height="9.2" fill="#fff" fill-opacity="0.42"/>
<rect x="90.2" y="92.2" width="44.5" height="9.2" fill="#fff" fill-opacity="0.42"/>
<text x="96.0" y="105.5" font-size="8.2" font-weight="bold" fill="#440154">Asaphida</text>
<text x="109.7" y="99.4" font-size="8.2" font-weight="bold" fill="#482173">Aulacopleurida</text>
<text x="71.1" y="105.5" font-size="8.2" font-weight="bold" fill="#433e85">Corynexochida</text>
<text x="138.8" y="186.7" font-size="8.2" font-weight="bold" fill="#38598c">Harpida</text>
<text x="120.4" y="71.5" font-size="8.2" font-weight="bold" fill="#2d708e">Lichida</text>
<text x="122.7" y="78.3" font-size="8.2" font-weight="bold" fill="#25858e">Odontopleurida</text>
<text x="130.2" y="99.0" font-size="8.2" font-weight="bold" fill="#1e9b8a">Olenida</text>
<text x="82.5" y="105.5" font-size="8.2" font-weight="bold" fill="#2bb07f">Phacopida</text>
<text x="101.8" y="123.9" font-size="8.2" font-weight="bold" fill="#51c56a">Proetida</text>
<text x="128.1" y="103.9" font-size="8.2" font-weight="bold" fill="#85d54a">Redlichiida</text>
<text x="144.2" y="123.9" font-size="8.2" font-weight="bold" fill="#c2df23">Trinucleida</text>
<text x="92.2" y="99.4" font-size="8.2" font-weight="bold" fill="#fde725">Uncertain</text>
<text x="296" y="108.8" font-size="10.3" fill="#1a1a1a">PC1 62.5%</text>
<text x="124.7" y="256.5" font-size="10.3" fill="#1a1a1a">PC2 24%</text>
<text x="3.3" y="17.6" font-size="18" font-weight="bold" fill="#000">A</text>
<line x1="433.5" y1="14.6" x2="433.5" y2="253" stroke="#cfcfcf" stroke-width="0.7"/>
<line x1="365" y1="111.6" x2="685" y2="111.6" stroke="#dadada" stroke-width="0.7"/>
<polygon points="586.0,88.2 540.0,130.0 475.8,183.3 413.9,225.3 396.8,230.9 401.0,132.3 440.0,92.0 470.4,90.0" fill="#c5d36a" fill-opacity="0.17" stroke="#c5d36a" stroke-width="0.75"/>
<polygon points="507.4,94.2 615.1,92.3 619.7,94.6 674.6,119.6 640.7,129.3 538.5,144.4 490.3,139.4" fill="#a3a6dc" fill-opacity="0.17" stroke="#a3a6dc" stroke-width="0.75"/>
<polygon points="526.0,82.1 448.6,155.9 423.8,172.7 409.2,145.7 420.0,100.0 470.4,88.7" fill="#b0aca8" fill-opacity="0.17" stroke="#b0aca8" stroke-width="0.75"/>
<polygon points="410.0,44.4 440.9,72.9 493.1,171.1 388.7,152.8 369.4,135.3 370.3,120.0 374.3,71.8" fill="#dcd340" fill-opacity="0.17" stroke="#dcd340" stroke-width="0.75"/>
<polygon points="376.1,51.7 505.9,101.5 511.8,157.7 518.8,183.2 478.2,182.5 420.0,165.0 396.0,85.0" fill="#cdb48f" fill-opacity="0.17" stroke="#cdb48f" stroke-width="0.75"/>
<polygon points="402.1,57.5 533.0,115.1 433.3,169.7 401.9,131.1" fill="#e8906e" fill-opacity="0.17" stroke="#e8906e" stroke-width="0.75"/>
<polygon points="422.8,51.1 472.0,91.0 499.7,137.8 410.0,222.3 399.9,137.0" fill="#f2b633" fill-opacity="0.17" stroke="#f2b633" stroke-width="0.75"/>
<polygon points="410.0,72.0 505.8,97.1 483.9,137.4 440.0,175.0 402.0,160.0" fill="#f0c050" fill-opacity="0.17" stroke="#f0c050" stroke-width="0.75"/>
<polygon points="400.0,69.8 418.7,80.9 420.0,120.0 398.3,137.0 389.5,130.9 387.8,112.5" fill="#c98bdd" fill-opacity="0.17" stroke="#c98bdd" stroke-width="0.75"/>
<polygon points="419.9,71.3 467.6,139.8 445.7,166.8 401.2,171.9 400.4,135.4 411.1,77.4" fill="#86cfa0" fill-opacity="0.17" stroke="#86cfa0" stroke-width="0.75"/>
<polygon points="410.0,100.0 526.0,157.4 501.8,186.1 388.8,131.1 395.0,110.0" fill="#e08cbf" fill-opacity="0.17" stroke="#e08cbf" stroke-width="0.75"/>
<path d="M586.0 88.2h0M540.0 130.0h0M475.8 183.3h0M413.9 225.3h0M396.8 230.9h0M401.0 132.3h0M440.0 92.0h0M470.4 90.0h0" stroke="#c5d36a" stroke-width="2.4" stroke-linecap="round"/>
<path d="M507.4 94.2h0M615.1 92.3h0M619.7 94.6h0M674.6 119.6h0M640.7 129.3h0M538.5 144.4h0M490.3 139.4h0" stroke="#a3a6dc" stroke-width="2.4" stroke-linecap="round"/>
<path d="M526.0 82.1h0M448.6 155.9h0M423.8 172.7h0M409.2 145.7h0M420.0 100.0h0M470.4 88.7h0" stroke="#b0aca8" stroke-width="2.4" stroke-linecap="round"/>
<path d="M410.0 44.4h0M440.9 72.9h0M493.1 171.1h0M388.7 152.8h0M369.4 135.3h0M370.3 120.0h0M374.3 71.8h0" stroke="#dcd340" stroke-width="2.4" stroke-linecap="round"/>
<path d="M376.1 51.7h0M505.9 101.5h0M511.8 157.7h0M518.8 183.2h0M478.2 182.5h0M420.0 165.0h0M396.0 85.0h0" stroke="#cdb48f" stroke-width="2.4" stroke-linecap="round"/>
<path d="M402.1 57.5h0M533.0 115.1h0M433.3 169.7h0M401.9 131.1h0" stroke="#e8906e" stroke-width="2.4" stroke-linecap="round"/>
<path d="M422.8 51.1h0M472.0 91.0h0M499.7 137.8h0M410.0 222.3h0M399.9 137.0h0" stroke="#f2b633" stroke-width="2.4" stroke-linecap="round"/>
<path d="M410.0 72.0h0M505.8 97.1h0M483.9 137.4h0M440.0 175.0h0M402.0 160.0h0" stroke="#f0c050" stroke-width="2.4" stroke-linecap="round"/>
<path d="M400.0 69.8h0M418.7 80.9h0M420.0 120.0h0M398.3 137.0h0M389.5 130.9h0M387.8 112.5h0" stroke="#c98bdd" stroke-width="2.4" stroke-linecap="round"/>
<path d="M419.9 71.3h0M467.6 139.8h0M445.7 166.8h0M401.2 171.9h0M400.4 135.4h0M411.1 77.4h0" stroke="#86cfa0" stroke-width="2.4" stroke-linecap="round"/>
<path d="M410.0 100.0h0M526.0 157.4h0M501.8 186.1h0M388.8 131.1h0M395.0 110.0h0" stroke="#e08cbf" stroke-width="2.4" stroke-linecap="round"/>
<circle cx="428.9" cy="86.3" r="1.2" fill="#e2c640" fill-opacity="0.8"/>
<circle cx="418.7" cy="85.0" r="1.2" fill="#dcd340" fill-opacity="0.8"/>
<circle cx="425.4" cy="78.7" r="1.2" fill="#f2b633" fill-opacity="0.8"/>
<circle cx="447.0" cy="80.8" r="1.2" fill="#e2c640" fill-opacity="0.8"/>
<circle cx="427.6" cy="83.6" r="1.2" fill="#dcd340" fill-opacity="0.8"/>
<circle cx="439.3" cy="79.8" r="1.2" fill="#cdb48f" fill-opacity="0.8"/>
<circle cx="433.9" cy="75.1" r="1.2" fill="#e8906e" fill-opacity="0.8"/>
<circle cx="424.3" cy="77.8" r="1.2" fill="#e2c640" fill-opacity="0.8"/>
<circle cx="414.7" cy="72.5" r="1.2" fill="#e2c640" fill-opacity="0.8"/>
<circle cx="411.7" cy="78.8" r="1.2" fill="#dcd340" fill-opacity="0.8"/>
<circle cx="426.3" cy="78.4" r="1.2" fill="#f2b633" fill-opacity="0.8"/>
<circle cx="428.7" cy="73.3" r="1.2" fill="#e2c640" fill-opacity="0.8"/>
<circle cx="427.2" cy="81.2" r="1.2" fill="#dcd340" fill-opacity="0.8"/>
<circle cx="435.5" cy="75.8" r="1.2" fill="#cdb48f" fill-opacity="0.8"/>
<circle cx="424.0" cy="69.9" r="1.2" fill="#e8906e" fill-opacity="0.8"/>
<circle cx="423.0" cy="69.0" r="1.2" fill="#e2c640" fill-opacity="0.8"/>
<circle cx="413.8" cy="85.5" r="1.2" fill="#e2c640" fill-opacity="0.8"/>
<circle cx="406.0" cy="84.0" r="1.2" fill="#dcd340" fill-opacity="0.8"/>
<circle cx="431.3" cy="78.4" r="1.2" fill="#f2b633" fill-opacity="0.8"/>
<circle cx="432.6" cy="82.6" r="1.2" fill="#e2c640" fill-opacity="0.8"/>
<circle cx="438.5" cy="78.8" r="1.2" fill="#dcd340" fill-opacity="0.8"/>
<circle cx="422.1" cy="77.0" r="1.2" fill="#cdb48f" fill-opacity="0.8"/>
<circle cx="418.1" cy="79.8" r="1.2" fill="#e8906e" fill-opacity="0.8"/>
<circle cx="420.1" cy="85.3" r="1.2" fill="#e2c640" fill-opacity="0.8"/>
<circle cx="409.3" cy="74.5" r="1.2" fill="#e2c640" fill-opacity="0.8"/>
<circle cx="418.5" cy="69.5" r="1.2" fill="#dcd340" fill-opacity="0.8"/>
<circle cx="447.0" cy="68.0" r="1.2" fill="#f2b633" fill-opacity="0.8"/>
<circle cx="425.2" cy="77.4" r="1.2" fill="#e2c640" fill-opacity="0.8"/>
<circle cx="444.6" cy="70.1" r="1.2" fill="#dcd340" fill-opacity="0.8"/>
<circle cx="438.7" cy="76.3" r="1.2" fill="#cdb48f" fill-opacity="0.8"/>
<circle cx="426.4" cy="76.6" r="1.2" fill="#e8906e" fill-opacity="0.8"/>
<circle cx="434.4" cy="74.3" r="1.2" fill="#e2c640" fill-opacity="0.8"/>
<circle cx="427.2" cy="81.8" r="1.2" fill="#e2c640" fill-opacity="0.8"/>
<circle cx="446.4" cy="68.0" r="1.2" fill="#dcd340" fill-opacity="0.8"/>
<circle cx="443.3" cy="84.7" r="1.2" fill="#f2b633" fill-opacity="0.8"/>
<circle cx="423.2" cy="81.5" r="1.2" fill="#e2c640" fill-opacity="0.8"/>
<circle cx="423.3" cy="88.2" r="1.2" fill="#dcd340" fill-opacity="0.8"/>
<circle cx="430.1" cy="78.9" r="1.2" fill="#cdb48f" fill-opacity="0.8"/>
<circle cx="425.7" cy="79.0" r="1.2" fill="#e8906e" fill-opacity="0.8"/>
<circle cx="426.2" cy="75.6" r="1.2" fill="#e2c640" fill-opacity="0.8"/>
<circle cx="448.6" cy="70.4" r="1.2" fill="#e2c640" fill-opacity="0.8"/>
<circle cx="391.9" cy="79.4" r="1.2" fill="#dcd340" fill-opacity="0.8"/>
<circle cx="426.5" cy="81.9" r="1.2" fill="#f2b633" fill-opacity="0.8"/>
<circle cx="426.0" cy="79.3" r="1.2" fill="#e2c640" fill-opacity="0.8"/>
<circle cx="431.3" cy="84.8" r="1.2" fill="#dcd340" fill-opacity="0.8"/>
<circle cx="423.5" cy="78.1" r="1.2" fill="#cdb48f" fill-opacity="0.8"/>
<circle cx="447.4" cy="82.7" r="1.2" fill="#e8906e" fill-opacity="0.8"/>
<circle cx="418.1" cy="91.6" r="1.2" fill="#e2c640" fill-opacity="0.8"/>
<circle cx="435.8" cy="77.1" r="1.2" fill="#e2c640" fill-opacity="0.8"/>
<circle cx="416.3" cy="81.5" r="1.2" fill="#dcd340" fill-opacity="0.8"/>
<circle cx="419.7" cy="74.7" r="1.2" fill="#f2b633" fill-opacity="0.8"/>
<circle cx="415.0" cy="77.5" r="1.2" fill="#e2c640" fill-opacity="0.8"/>
<circle cx="439.1" cy="77.8" r="1.2" fill="#dcd340" fill-opacity="0.8"/>
<circle cx="413.5" cy="83.3" r="1.2" fill="#cdb48f" fill-opacity="0.8"/>
<circle cx="428.7" cy="84.2" r="1.2" fill="#e8906e" fill-opacity="0.8"/>
<circle cx="440.0" cy="79.2" r="1.2" fill="#e2c640" fill-opacity="0.8"/>
<circle cx="426.6" cy="79.8" r="1.2" fill="#e2c640" fill-opacity="0.8"/>
<circle cx="416.7" cy="83.3" r="1.2" fill="#dcd340" fill-opacity="0.8"/>
<circle cx="441.7" cy="80.9" r="1.2" fill="#f2b633" fill-opacity="0.8"/>
<circle cx="425.6" cy="78.7" r="1.2" fill="#e2c640" fill-opacity="0.8"/>
<circle cx="420.2" cy="76.0" r="1.2" fill="#dcd340" fill-opacity="0.8"/>
<circle cx="424.0" cy="75.8" r="1.2" fill="#cdb48f" fill-opacity="0.8"/>
<circle cx="423.6" cy="72.1" r="1.2" fill="#e8906e" fill-opacity="0.8"/>
<circle cx="431.5" cy="80.2" r="1.2" fill="#e2c640" fill-opacity="0.8"/>
<circle cx="416.5" cy="68.5" r="1.2" fill="#e2c640" fill-opacity="0.8"/>
<circle cx="427.9" cy="85.5" r="1.2" fill="#dcd340" fill-opacity="0.8"/>
<circle cx="420.7" cy="77.6" r="1.2" fill="#f2b633" fill-opacity="0.8"/>
<circle cx="422.3" cy="83.3" r="1.2" fill="#e2c640" fill-opacity="0.8"/>
<circle cx="418.8" cy="84.9" r="1.2" fill="#dcd340" fill-opacity="0.8"/>
<circle cx="425.0" cy="84.6" r="1.2" fill="#cdb48f" fill-opacity="0.8"/>
<circle cx="428.3" cy="78.8" r="1.2" fill="#e8906e" fill-opacity="0.8"/>
<circle cx="413.2" cy="76.6" r="1.2" fill="#e2c640" fill-opacity="0.8"/>
<circle cx="425.4" cy="83.3" r="1.2" fill="#e2c640" fill-opacity="0.8"/>
<circle cx="430.4" cy="76.5" r="1.2" fill="#dcd340" fill-opacity="0.8"/>
<circle cx="432.1" cy="84.9" r="1.2" fill="#f2b633" fill-opacity="0.8"/>
<circle cx="426.5" cy="77.8" r="1.2" fill="#e2c640" fill-opacity="0.8"/>
<circle cx="424.1" cy="84.1" r="1.2" fill="#dcd340" fill-opacity="0.8"/>
<circle cx="433.4" cy="75.4" r="1.2" fill="#cdb48f" fill-opacity="0.8"/>
<circle cx="431.7" cy="77.6" r="1.2" fill="#e8906e" fill-opacity="0.8"/>
<circle cx="420.5" cy="86.2" r="1.2" fill="#e2c640" fill-opacity="0.8"/>
<circle cx="436.2" cy="76.4" r="1.2" fill="#e2c640" fill-opacity="0.8"/>
<circle cx="428.8" cy="82.5" r="1.2" fill="#dcd340" fill-opacity="0.8"/>
<circle cx="421.6" cy="79.4" r="1.2" fill="#f2b633" fill-opacity="0.8"/>
<circle cx="434.7" cy="71.1" r="1.2" fill="#e2c640" fill-opacity="0.8"/>
<circle cx="431.3" cy="83.7" r="1.2" fill="#dcd340" fill-opacity="0.8"/>
<circle cx="433.0" cy="73.3" r="1.2" fill="#cdb48f" fill-opacity="0.8"/>
<circle cx="431.2" cy="75.7" r="1.2" fill="#e8906e" fill-opacity="0.8"/>
<circle cx="433.7" cy="83.0" r="1.2" fill="#e2c640" fill-opacity="0.8"/>
<circle cx="430.2" cy="76.2" r="1.2" fill="#e2c640" fill-opacity="0.8"/>
<circle cx="422.1" cy="84.3" r="1.2" fill="#dcd340" fill-opacity="0.8"/>
<circle cx="419.0" cy="82.5" r="1.2" fill="#f2b633" fill-opacity="0.8"/>
<circle cx="433.1" cy="78.6" r="1.2" fill="#e2c640" fill-opacity="0.8"/>
<circle cx="451.9" cy="80.4" r="1.2" fill="#dcd340" fill-opacity="0.8"/>
<circle cx="449.5" cy="69.9" r="1.2" fill="#cdb48f" fill-opacity="0.8"/>
<circle cx="405.6" cy="84.9" r="1.2" fill="#e8906e" fill-opacity="0.8"/>
<circle cx="434.4" cy="78.4" r="1.2" fill="#e2c640" fill-opacity="0.8"/>
<circle cx="427.5" cy="70.5" r="1.2" fill="#e2c640" fill-opacity="0.8"/>
<circle cx="421.7" cy="74.8" r="1.2" fill="#dcd340" fill-opacity="0.8"/>
<circle cx="425.8" cy="84.4" r="1.2" fill="#f2b633" fill-opacity="0.8"/>
<circle cx="428.5" cy="81.9" r="1.2" fill="#e2c640" fill-opacity="0.8"/>
<circle cx="421.0" cy="77.8" r="1.2" fill="#dcd340" fill-opacity="0.8"/>
<circle cx="429.1" cy="78.6" r="1.2" fill="#cdb48f" fill-opacity="0.8"/>
<circle cx="440.6" cy="75.6" r="1.2" fill="#e8906e" fill-opacity="0.8"/>
<circle cx="446.9" cy="75.1" r="1.2" fill="#e2c640" fill-opacity="0.8"/>
<circle cx="438.6" cy="76.1" r="1.2" fill="#e2c640" fill-opacity="0.8"/>
<circle cx="444.5" cy="80.7" r="1.2" fill="#dcd340" fill-opacity="0.8"/>
<circle cx="432.0" cy="83.7" r="1.2" fill="#f2b633" fill-opacity="0.8"/>
<circle cx="421.7" cy="74.8" r="1.2" fill="#e2c640" fill-opacity="0.8"/>
<circle cx="407.7" cy="86.1" r="1.2" fill="#dcd340" fill-opacity="0.8"/>
<circle cx="421.0" cy="77.0" r="1.2" fill="#cdb48f" fill-opacity="0.8"/>
<circle cx="427.7" cy="89.9" r="1.2" fill="#e8906e" fill-opacity="0.8"/>
<circle cx="410.7" cy="81.2" r="1.2" fill="#e2c640" fill-opacity="0.8"/>
<circle cx="424.0" cy="82.7" r="1.2" fill="#e2c640" fill-opacity="0.8"/>
<circle cx="410.0" cy="78.0" r="1.2" fill="#dcd340" fill-opacity="0.8"/>
<circle cx="436.4" cy="87.8" r="1.2" fill="#f2b633" fill-opacity="0.8"/>
<circle cx="444.0" cy="75.7" r="1.2" fill="#e2c640" fill-opacity="0.8"/>
<circle cx="428.5" cy="79.5" r="1.2" fill="#dcd340" fill-opacity="0.8"/>
<circle cx="414.2" cy="72.8" r="1.2" fill="#cdb48f" fill-opacity="0.8"/>
<circle cx="435.6" cy="81.2" r="1.2" fill="#e8906e" fill-opacity="0.8"/>
<circle cx="426.6" cy="86.1" r="1.2" fill="#e2c640" fill-opacity="0.8"/>
<circle cx="418.0" cy="82.6" r="1.2" fill="#e2c640" fill-opacity="0.8"/>
<circle cx="428.1" cy="79.7" r="1.2" fill="#dcd340" fill-opacity="0.8"/>
<circle cx="432.9" cy="80.9" r="1.2" fill="#f2b633" fill-opacity="0.8"/>
<circle cx="430.7" cy="81.3" r="1.2" fill="#e2c640" fill-opacity="0.8"/>
<circle cx="447.4" cy="78.4" r="1.2" fill="#dcd340" fill-opacity="0.8"/>
<circle cx="438.1" cy="83.0" r="1.2" fill="#cdb48f" fill-opacity="0.8"/>
<circle cx="424.5" cy="84.0" r="1.2" fill="#e8906e" fill-opacity="0.8"/>
<circle cx="419.4" cy="85.8" r="1.2" fill="#e2c640" fill-opacity="0.8"/>
<circle cx="419.9" cy="77.6" r="1.2" fill="#e2c640" fill-opacity="0.8"/>
<circle cx="431.2" cy="84.2" r="1.2" fill="#dcd340" fill-opacity="0.8"/>
<circle cx="433.8" cy="148.0" r="1.2" fill="#cdb48f" fill-opacity="0.7"/>
<circle cx="419.3" cy="131.4" r="1.2" fill="#f2b633" fill-opacity="0.7"/>
<circle cx="429.1" cy="142.7" r="1.2" fill="#e08cbf" fill-opacity="0.7"/>
<circle cx="409.6" cy="148.8" r="1.2" fill="#dcd340" fill-opacity="0.7"/>
<circle cx="424.6" cy="131.4" r="1.2" fill="#e8906e" fill-opacity="0.7"/>
<circle cx="427.7" cy="128.1" r="1.2" fill="#b0aca8" fill-opacity="0.7"/>
<circle cx="410.6" cy="143.6" r="1.2" fill="#cdb48f" fill-opacity="0.7"/>
<circle cx="401.8" cy="140.3" r="1.2" fill="#f2b633" fill-opacity="0.7"/>
<circle cx="404.4" cy="146.6" r="1.2" fill="#e08cbf" fill-opacity="0.7"/>
<circle cx="412.5" cy="141.6" r="1.2" fill="#dcd340" fill-opacity="0.7"/>
<circle cx="402.5" cy="136.9" r="1.2" fill="#e8906e" fill-opacity="0.7"/>
<circle cx="434.3" cy="144.1" r="1.2" fill="#b0aca8" fill-opacity="0.7"/>
<circle cx="398.1" cy="148.3" r="1.2" fill="#cdb48f" fill-opacity="0.7"/>
<circle cx="433.6" cy="136.6" r="1.2" fill="#f2b633" fill-opacity="0.7"/>
<circle cx="440.4" cy="130.5" r="1.2" fill="#e08cbf" fill-opacity="0.7"/>
<circle cx="420.9" cy="150.0" r="1.2" fill="#dcd340" fill-opacity="0.7"/>
<circle cx="439.0" cy="151.5" r="1.2" fill="#e8906e" fill-opacity="0.7"/>
<circle cx="407.8" cy="124.0" r="1.2" fill="#b0aca8" fill-opacity="0.7"/>
<circle cx="427.1" cy="127.1" r="1.2" fill="#cdb48f" fill-opacity="0.7"/>
<circle cx="420.3" cy="128.5" r="1.2" fill="#f2b633" fill-opacity="0.7"/>
<circle cx="435.8" cy="147.2" r="1.2" fill="#e08cbf" fill-opacity="0.7"/>
<circle cx="429.2" cy="140.2" r="1.2" fill="#dcd340" fill-opacity="0.7"/>
<circle cx="422.6" cy="137.3" r="1.2" fill="#e8906e" fill-opacity="0.7"/>
<circle cx="427.0" cy="142.2" r="1.2" fill="#b0aca8" fill-opacity="0.7"/>
<circle cx="428.0" cy="136.1" r="1.2" fill="#cdb48f" fill-opacity="0.7"/>
<circle cx="446.7" cy="142.5" r="1.2" fill="#f2b633" fill-opacity="0.7"/>
<circle cx="440.1" cy="152.0" r="1.2" fill="#e08cbf" fill-opacity="0.7"/>
<circle cx="410.6" cy="124.8" r="1.2" fill="#dcd340" fill-opacity="0.7"/>
<circle cx="438.3" cy="136.5" r="1.2" fill="#e8906e" fill-opacity="0.7"/>
<circle cx="423.1" cy="137.7" r="1.2" fill="#b0aca8" fill-opacity="0.7"/>
<circle cx="423.7" cy="129.3" r="1.2" fill="#cdb48f" fill-opacity="0.7"/>
<circle cx="420.7" cy="135.8" r="1.2" fill="#f2b633" fill-opacity="0.7"/>
<circle cx="421.8" cy="119.0" r="1.2" fill="#e08cbf" fill-opacity="0.7"/>
<circle cx="432.7" cy="143.0" r="1.2" fill="#dcd340" fill-opacity="0.7"/>
<circle cx="399.6" cy="133.4" r="1.2" fill="#e8906e" fill-opacity="0.7"/>
<circle cx="422.4" cy="145.7" r="1.2" fill="#b0aca8" fill-opacity="0.7"/>
<circle cx="422.0" cy="152.5" r="1.2" fill="#cdb48f" fill-opacity="0.7"/>
<circle cx="422.3" cy="131.0" r="1.2" fill="#f2b633" fill-opacity="0.7"/>
<circle cx="413.2" cy="146.7" r="1.2" fill="#e08cbf" fill-opacity="0.7"/>
<circle cx="414.0" cy="147.6" r="1.2" fill="#dcd340" fill-opacity="0.7"/>
<circle cx="435.3" cy="145.3" r="1.2" fill="#e8906e" fill-opacity="0.7"/>
<circle cx="435.2" cy="138.4" r="1.2" fill="#b0aca8" fill-opacity="0.7"/>
<circle cx="421.9" cy="134.7" r="1.2" fill="#cdb48f" fill-opacity="0.7"/>
<circle cx="414.1" cy="125.9" r="1.2" fill="#f2b633" fill-opacity="0.7"/>
<circle cx="414.8" cy="130.4" r="1.2" fill="#e08cbf" fill-opacity="0.7"/>
<circle cx="403.4" cy="141.3" r="1.2" fill="#dcd340" fill-opacity="0.7"/>
<circle cx="427.9" cy="136.9" r="1.2" fill="#e8906e" fill-opacity="0.7"/>
<circle cx="439.8" cy="148.5" r="1.2" fill="#b0aca8" fill-opacity="0.7"/>
<circle cx="435.6" cy="134.6" r="1.2" fill="#cdb48f" fill-opacity="0.7"/>
<circle cx="402.6" cy="145.0" r="1.2" fill="#f2b633" fill-opacity="0.7"/>
<circle cx="426.0" cy="146.5" r="1.2" fill="#e08cbf" fill-opacity="0.7"/>
<circle cx="427.4" cy="151.3" r="1.2" fill="#dcd340" fill-opacity="0.7"/>
<circle cx="418.3" cy="146.0" r="1.2" fill="#e8906e" fill-opacity="0.7"/>
<circle cx="410.4" cy="119.2" r="1.2" fill="#b0aca8" fill-opacity="0.7"/>
<circle cx="416.2" cy="153.5" r="1.2" fill="#cdb48f" fill-opacity="0.7"/>
<circle cx="400.2" cy="149.2" r="1.2" fill="#f2b633" fill-opacity="0.7"/>
<circle cx="413.2" cy="136.4" r="1.2" fill="#e08cbf" fill-opacity="0.7"/>
<circle cx="422.6" cy="141.9" r="1.2" fill="#dcd340" fill-opacity="0.7"/>
<circle cx="409.3" cy="141.1" r="1.2" fill="#e8906e" fill-opacity="0.7"/>
<circle cx="427.8" cy="147.5" r="1.2" fill="#b0aca8" fill-opacity="0.7"/>
<circle cx="412.2" cy="154.0" r="1.2" fill="#cdb48f" fill-opacity="0.7"/>
<circle cx="446.8" cy="161.7" r="1.2" fill="#f2b633" fill-opacity="0.7"/>
<circle cx="404.6" cy="141.6" r="1.2" fill="#e08cbf" fill-opacity="0.7"/>
<circle cx="397.8" cy="143.4" r="1.2" fill="#dcd340" fill-opacity="0.7"/>
<circle cx="429.2" cy="129.7" r="1.2" fill="#e8906e" fill-opacity="0.7"/>
<circle cx="401.4" cy="141.7" r="1.2" fill="#b0aca8" fill-opacity="0.7"/>
<circle cx="430.2" cy="132.9" r="1.2" fill="#cdb48f" fill-opacity="0.7"/>
<circle cx="418.6" cy="117.3" r="1.2" fill="#f2b633" fill-opacity="0.7"/>
<circle cx="412.8" cy="141.3" r="1.2" fill="#e08cbf" fill-opacity="0.7"/>
<circle cx="424.0" cy="154.2" r="1.2" fill="#dcd340" fill-opacity="0.7"/>
<path d="M410.1 167.8h0M412.2 147.8h0M404.3 148.2h0M404.2 160.7h0M412.3 166.2h0M405.1 165.2h0M405.8 152.9h0M410.7 143.4h0M403.1 164.4h0M405.5 151.0h0M409.0 159.9h0M402.1 150.4h0M407.2 154.6h0M404.5 157.4h0" stroke="#86cfa0" stroke-width="2.4" stroke-linecap="round"/>
<path d="M405.2 179.5h0M426.3 180.9h0M422.0 190.3h0M406.4 185.6h0M403.4 216.0h0M412.0 173.4h0M400.0 150.0h0" stroke="#f2b633" stroke-width="2.4" stroke-linecap="round"/>
<path d="M376.0 85.0h0M380.0 100.0h0M385.0 118.0h0M378.0 130.0h0M390.0 140.0h0M384.0 75.0h0M395.0 60.0h0M372.0 110.0h0" stroke="#dcd340" stroke-width="2.4" stroke-linecap="round"/>
<path d="M588.8 98.5h0M584.8 123.7h0M531.6 125.6h0M506.1 113.0h0M545.1 115.1h0M554.5 112.7h0M549.8 110.9h0M553.3 107.4h0M556.8 105.5h0M540.4 105.0h0M527.6 106.2h0M528.8 95.7h0M544.0 94.5h0M552.1 95.7h0M507.7 94.1h0M588.3 98.3h0M609.6 98.6h0M637.0 119.6h0M584.6 123.5h0" stroke="#a3a6dc" stroke-width="2.4" stroke-linecap="round"/>
<rect x="391.7" y="108.2" width="81.0" height="9" fill="#fff" fill-opacity="0.68"/>
<rect x="387.7" y="94.4" width="81.0" height="9" fill="#fff" fill-opacity="0.68"/>
<rect x="529.6" y="94.2" width="49.5" height="9" fill="#fff" fill-opacity="0.68"/>
<rect x="392.9" y="101.0" width="47.5" height="9" fill="#fff" fill-opacity="0.68"/>
<rect x="396.4" y="120.3" width="83.0" height="9" fill="#fff" fill-opacity="0.68"/>
<rect x="399.0" y="101.5" width="50.5" height="9" fill="#fff" fill-opacity="0.68"/>
<rect x="396.9" y="85.1" width="60.0" height="9" fill="#fff" fill-opacity="0.68"/>
<rect x="407.8" y="88.2" width="53.5" height="9" fill="#fff" fill-opacity="0.68"/>
<rect x="393.8" y="118.5" width="64.0" height="9" fill="#fff" fill-opacity="0.68"/>
<rect x="420.1" y="113.3" width="63.5" height="9" fill="#fff" fill-opacity="0.68"/>
<text x="399.7" y="116.2" font-size="9" font-weight="bold" fill="#c29c74">Aulacopleurida</text>
<text x="395.7" y="102.4" font-size="9" font-weight="bold" fill="#e8907a">Corynexochida</text>
<text x="537.6" y="102.2" font-size="9" font-weight="bold" fill="#9b9fd8">Harpida</text>
<text x="400.9" y="109.0" font-size="9" font-weight="bold" fill="#cf8ae6">Lichida</text>
<text x="404.4" y="128.3" font-size="9" font-weight="bold" fill="#e090c0">Odontopleurida</text>
<text x="407.0" y="109.5" font-size="9" font-weight="bold" fill="#9fb3b3">Olenida</text>
<text x="404.9" y="93.1" font-size="9" font-weight="bold" fill="#d2da30">Phacopida</text>
<text x="415.8" y="96.2" font-size="9" font-weight="bold" fill="#f0c028">Proetida</text>
<text x="401.8" y="126.5" font-size="9" font-weight="bold" fill="#f2c050">Redlichiida</text>
<text x="428.1" y="121.3" font-size="9" font-weight="bold" fill="#cdbfb0">Trinucleida</text>
<text x="631.7" y="108.9" font-size="10" fill="#1a1a1a">LD1 58.4%</text>
<text x="436.5" y="253" font-size="10" fill="#1a1a1a">LD2 17.3%</text>
<text x="371.5" y="17.9" font-size="18" font-weight="bold" fill="#000">C</text>
<rect x="31.2" y="275.8" width="75.5" height="11.8" fill="#dedede"/><text x="69.0" y="286.0" font-size="10.4" text-anchor="middle" fill="#1a1a1a">Asaphida</text><rect x="31.2" y="287.6" width="75.5" height="119.3" fill="#f1f1f1"/><svg x="31.2" y="287.6" width="75.5" height="119.3" overflow="hidden"><g transform="translate(-31.2,-287.6)"><line x1="45.6" y1="287.6" x2="45.6" y2="406.90000000000003" stroke="#fff" stroke-width="0.5"/><line x1="69.2" y1="287.6" x2="69.2" y2="406.90000000000003" stroke="#fff" stroke-width="0.5"/><line x1="92.8" y1="287.6" x2="92.8" y2="406.90000000000003" stroke="#fff" stroke-width="0.5"/><line x1="31.2" y1="299.8" x2="106.7" y2="299.8" stroke="#fff" stroke-width="0.5"/><line x1="31.2" y1="326.7" x2="106.7" y2="326.7" stroke="#fff" stroke-width="0.5"/><line x1="31.2" y1="353.6" x2="106.7" y2="353.6" stroke="#fff" stroke-width="0.5"/><line x1="31.2" y1="380.5" x2="106.7" y2="380.5" stroke="#fff" stroke-width="0.5"/><line x1="33.8" y1="287.6" x2="33.8" y2="406.90000000000003" stroke="#fff" stroke-width="1"/><line x1="57.4" y1="287.6" x2="57.4" y2="406.90000000000003" stroke="#fff" stroke-width="1"/><line x1="81.0" y1="287.6" x2="81.0" y2="406.90000000000003" stroke="#fff" stroke-width="1"/><line x1="104.6" y1="287.6" x2="104.6" y2="406.90000000000003" stroke="#fff" stroke-width="1"/><line x1="31.2" y1="313.2" x2="106.7" y2="313.2" stroke="#fff" stroke-width="1"/><line x1="31.2" y1="340.1" x2="106.7" y2="340.1" stroke="#fff" stroke-width="1"/><line x1="31.2" y1="367.0" x2="106.7" y2="367.0" stroke="#fff" stroke-width="1"/><line x1="31.2" y1="393.9" x2="106.7" y2="393.9" stroke="#fff" stroke-width="1"/></g></svg><use href="#cloud" x="31.2" y="287.6"/><path d="M56.5 344.6h0M60.7 340.9h0M65.1 327.3h0M51.4 343.7h0M52.3 330.7h0M61.0 329.1h0M74.1 327.1h0M74.8 342.0h0M48.1 327.6h0M68.0 335.2h0M60.0 330.4h0M65.7 332.6h0M43.9 336.3h0M63.3 329.3h0M65.0 329.0h0M65.6 322.3h0M75.0 335.3h0M69.2 326.6h0M60.6 333.5h0M65.8 333.9h0M58.0 334.5h0M68.2 343.6h0M75.3 335.6h0M52.4 331.0h0M72.2 325.4h0M62.0 326.9h0M64.9 323.6h0M55.4 325.5h0M48.8 334.8h0M69.6 327.2h0M71.3 337.3h0M71.9 331.9h0M54.2 335.3h0M48.0 341.5h0M59.6 323.3h0M70.0 331.2h0M52.6 345.9h0M66.1 337.7h0M66.2 334.7h0M55.9 337.1h0M74.9 333.4h0M60.5 339.1h0M59.6 326.9h0M73.6 325.9h0M58.1 337.2h0M66.7 335.7h0M71.8 324.2h0M60.1 341.1h0M48.4 339.7h0M74.0 340.0h0M60.7 345.0h0M55.0 342.7h0M62.4 324.1h0M72.0 340.1h0M45.3 335.8h0M72.5 338.2h0M66.0 320.2h0M60.9 336.5h0M65.0 331.8h0M56.0 331.1h0M65.8 332.5h0M52.3 334.9h0M66.6 342.7h0M70.4 326.8h0M50.0 323.1h0M70.3 334.4h0M74.4 331.9h0M70.4 335.5h0M61.3 322.0h0M50.0 332.7h0M72.3 333.2h0M63.7 341.2h0M57.0 320.3h0M69.5 332.5h0M66.7 343.5h0M68.5 336.4h0M61.0 336.8h0M59.1 337.3h0M56.2 346.7h0M74.6 333.5h0M55.9 327.9h0M69.0 326.2h0M65.1 337.7h0M59.9 333.9h0M65.1 331.4h0M62.6 341.1h0M53.9 343.2h0M68.6 333.4h0M49.3 327.8h0M57.6 334.4h0M69.0 334.6h0M53.4 328.3h0M75.2 335.5h0M56.8 335.9h0M60.7 327.9h0M58.2 325.1h0M75.4 330.3h0M62.8 344.9h0M68.1 320.7h0M57.3 323.2h0M45.8 336.4h0M48.8 339.9h0M56.3 344.4h0M44.0 335.3h0M47.3 328.2h0M55.5 344.6h0M72.9 337.6h0M58.2 328.6h0M57.0 327.7h0M51.7 332.8h0M56.9 336.8h0M59.8 325.5h0M44.7 328.3h0M73.4 327.5h0M70.1 338.4h0M44.7 340.5h0M58.9 347.5h0M73.4 333.6h0M53.5 329.0h0M47.5 331.1h0M63.0 333.2h0M60.5 319.4h0M52.7 345.9h0M62.1 341.2h0M66.7 325.9h0M60.5 339.3h0M43.8 330.6h0M53.5 343.0h0M53.0 337.5h0M51.4 336.3h0M62.1 338.2h0M60.1 344.1h0M45.3 327.3h0M59.7 333.5h0M65.8 337.3h0M74.9 328.9h0M65.6 324.7h0M60.8 331.5h0M75.6 337.5h0M58.8 320.5h0M60.6 309.7h0M70.5 314.6h0M66.9 317.3h0M69.6 320.0h0M57.0 320.9h0M47.1 326.6h0M44.5 334.3h0M40.9 346.9h0M48.0 351.4h0M58.8 352.3h0M63.3 356.4h0M74.9 357.6h0M83.9 350.5h0M75.5 346.0h0M46.2 357.6h0M41.8 358.5h0M36.4 361.2h0M38.2 362.1h0M40.0 360.3h0M34.6 361.2h0M37.3 360.0h0M48.9 351.7h0M57.9 353.1h0" stroke="#f5cba3" stroke-width="3.4" stroke-linecap="round" fill="none"/><rect x="110.9" y="275.8" width="75.5" height="11.8" fill="#dedede"/><text x="148.7" y="286.0" font-size="10.4" text-anchor="middle" fill="#1a1a1a">Aulacopleurida</text><rect x="110.9" y="287.6" width="75.5" height="119.3" fill="#f1f1f1"/><svg x="110.9" y="287.6" width="75.5" height="119.3" overflow="hidden"><g transform="translate(-110.9,-287.6)"><line x1="125.3" y1="287.6" x2="125.3" y2="406.90000000000003" stroke="#fff" stroke-width="0.5"/><line x1="148.9" y1="287.6" x2="148.9" y2="406.90000000000003" stroke="#fff" stroke-width="0.5"/><line x1="172.5" y1="287.6" x2="172.5" y2="406.90000000000003" stroke="#fff" stroke-width="0.5"/><line x1="110.9" y1="299.8" x2="186.4" y2="299.8" stroke="#fff" stroke-width="0.5"/><line x1="110.9" y1="326.7" x2="186.4" y2="326.7" stroke="#fff" stroke-width="0.5"/><line x1="110.9" y1="353.6" x2="186.4" y2="353.6" stroke="#fff" stroke-width="0.5"/><line x1="110.9" y1="380.5" x2="186.4" y2="380.5" stroke="#fff" stroke-width="0.5"/><line x1="113.5" y1="287.6" x2="113.5" y2="406.90000000000003" stroke="#fff" stroke-width="1"/><line x1="137.1" y1="287.6" x2="137.1" y2="406.90000000000003" stroke="#fff" stroke-width="1"/><line x1="160.7" y1="287.6" x2="160.7" y2="406.90000000000003" stroke="#fff" stroke-width="1"/><line x1="184.3" y1="287.6" x2="184.3" y2="406.90000000000003" stroke="#fff" stroke-width="1"/><line x1="110.9" y1="313.2" x2="186.4" y2="313.2" stroke="#fff" stroke-width="1"/><line x1="110.9" y1="340.1" x2="186.4" y2="340.1" stroke="#fff" stroke-width="1"/><line x1="110.9" y1="367.0" x2="186.4" y2="367.0" stroke="#fff" stroke-width="1"/><line x1="110.9" y1="393.9" x2="186.4" y2="393.9" stroke="#fff" stroke-width="1"/></g></svg><use href="#cloud" x="110.9" y="287.6"/><path d="M133.8 310.5h0M151.4 318.5h0M137.0 326.2h0M138.8 328.0h0M135.2 328.9h0M129.8 330.2h0M143.3 326.6h0M133.4 332.5h0M136.1 331.6h0M139.7 332.5h0M141.5 333.4h0M145.1 332.5h0M126.2 333.1h0M137.9 337.0h0M140.6 338.8h0M139.7 335.2h0M153.2 338.8h0M144.2 342.0h0M153.2 349.9h0M141.9 355.3h0M148.7 361.8h0M154.9 362.1h0M157.3 371.1h0M137.9 329.8h0" stroke="#8fb1a6" stroke-width="3.4" stroke-linecap="round" fill="none"/><rect x="190.6" y="275.8" width="75.5" height="11.8" fill="#dedede"/><text x="228.3" y="286.0" font-size="10.4" text-anchor="middle" fill="#1a1a1a">Corynexochida</text><rect x="190.6" y="287.6" width="75.5" height="119.3" fill="#f1f1f1"/><svg x="190.6" y="287.6" width="75.5" height="119.3" overflow="hidden"><g transform="translate(-190.6,-287.6)"><line x1="205.0" y1="287.6" x2="205.0" y2="406.90000000000003" stroke="#fff" stroke-width="0.5"/><line x1="228.6" y1="287.6" x2="228.6" y2="406.90000000000003" stroke="#fff" stroke-width="0.5"/><line x1="252.2" y1="287.6" x2="252.2" y2="406.90000000000003" stroke="#fff" stroke-width="0.5"/><line x1="190.6" y1="299.8" x2="266.1" y2="299.8" stroke="#fff" stroke-width="0.5"/><line x1="190.6" y1="326.7" x2="266.1" y2="326.7" stroke="#fff" stroke-width="0.5"/><line x1="190.6" y1="353.6" x2="266.1" y2="353.6" stroke="#fff" stroke-width="0.5"/><line x1="190.6" y1="380.5" x2="266.1" y2="380.5" stroke="#fff" stroke-width="0.5"/><line x1="193.2" y1="287.6" x2="193.2" y2="406.90000000000003" stroke="#fff" stroke-width="1"/><line x1="216.8" y1="287.6" x2="216.8" y2="406.90000000000003" stroke="#fff" stroke-width="1"/><line x1="240.4" y1="287.6" x2="240.4" y2="406.90000000000003" stroke="#fff" stroke-width="1"/><line x1="264.0" y1="287.6" x2="264.0" y2="406.90000000000003" stroke="#fff" stroke-width="1"/><line x1="190.6" y1="313.2" x2="266.1" y2="313.2" stroke="#fff" stroke-width="1"/><line x1="190.6" y1="340.1" x2="266.1" y2="340.1" stroke="#fff" stroke-width="1"/><line x1="190.6" y1="367.0" x2="266.1" y2="367.0" stroke="#fff" stroke-width="1"/><line x1="190.6" y1="393.9" x2="266.1" y2="393.9" stroke="#fff" stroke-width="1"/></g></svg><use href="#cloud" x="190.6" y="287.6"/><path d="M215.1 316.9h0M216.9 316.4h0M219.6 317.6h0M212.4 320.0h0M216.0 322.7h0M218.7 323.6h0M211.5 324.5h0M209.7 328.0h0M212.4 328.0h0M214.2 329.8h0M216.0 328.0h0M218.7 331.3h0M221.4 332.0h0M213.3 332.5h0M208.8 336.1h0M207.0 336.5h0M213.3 336.1h0M204.3 340.6h0M207.9 341.5h0M206.1 344.2h0M203.5 345.1h0M202.6 346.9h0M205.2 347.8h0M204.3 350.5h0M202.6 352.3h0M201.7 354.0h0M200.8 355.8h0M202.6 356.7h0M199.9 357.6h0M199.0 361.8h0M225.0 328.9h0M227.7 335.2h0M232.2 338.4h0M222.3 337.9h0M224.4 340.2h0M211.5 342.7h0M216.9 345.1h0M219.6 348.7h0M226.8 351.4h0M228.0 354.0h0M237.5 381.3h0M216.9 332.0h0M215.1 326.6h0M210.6 325.9h0M205.2 346.0h0M203.5 349.6h0" stroke="#2d7ea0" stroke-width="3.4" stroke-linecap="round" fill="none"/><rect x="270.3" y="275.8" width="75.5" height="11.8" fill="#dedede"/><text x="308.1" y="286.0" font-size="10.4" text-anchor="middle" fill="#1a1a1a">Harpida</text><rect x="270.3" y="287.6" width="75.5" height="119.3" fill="#f1f1f1"/><svg x="270.3" y="287.6" width="75.5" height="119.3" overflow="hidden"><g transform="translate(-270.3,-287.6)"><line x1="284.7" y1="287.6" x2="284.7" y2="406.90000000000003" stroke="#fff" stroke-width="0.5"/><line x1="308.3" y1="287.6" x2="308.3" y2="406.90000000000003" stroke="#fff" stroke-width="0.5"/><line x1="331.9" y1="287.6" x2="331.9" y2="406.90000000000003" stroke="#fff" stroke-width="0.5"/><line x1="270.3" y1="299.8" x2="345.8" y2="299.8" stroke="#fff" stroke-width="0.5"/><line x1="270.3" y1="326.7" x2="345.8" y2="326.7" stroke="#fff" stroke-width="0.5"/><line x1="270.3" y1="353.6" x2="345.8" y2="353.6" stroke="#fff" stroke-width="0.5"/><line x1="270.3" y1="380.5" x2="345.8" y2="380.5" stroke="#fff" stroke-width="0.5"/><line x1="272.9" y1="287.6" x2="272.9" y2="406.90000000000003" stroke="#fff" stroke-width="1"/><line x1="296.5" y1="287.6" x2="296.5" y2="406.90000000000003" stroke="#fff" stroke-width="1"/><line x1="320.1" y1="287.6" x2="320.1" y2="406.90000000000003" stroke="#fff" stroke-width="1"/><line x1="343.7" y1="287.6" x2="343.7" y2="406.90000000000003" stroke="#fff" stroke-width="1"/><line x1="270.3" y1="313.2" x2="345.8" y2="313.2" stroke="#fff" stroke-width="1"/><line x1="270.3" y1="340.1" x2="345.8" y2="340.1" stroke="#fff" stroke-width="1"/><line x1="270.3" y1="367.0" x2="345.8" y2="367.0" stroke="#fff" stroke-width="1"/><line x1="270.3" y1="393.9" x2="345.8" y2="393.9" stroke="#fff" stroke-width="1"/></g></svg><use href="#cloud" x="270.3" y="287.6"/><path d="M304.6 315.8h0M287.6 357.5h0M307.1 361.0h0M301.4 367.1h0M304.1 368.4h0M305.9 368.4h0M286.5 374.7h0M291.5 374.0h0M295.1 373.2h0M308.6 373.8h0M307.7 375.2h0M296.9 378.8h0M301.4 377.4h0M303.2 379.7h0M305.0 380.9h0M302.3 381.8h0M311.3 381.3h0M299.6 386.7h0M304.1 384.0h0M309.1 386.3h0M317.0 388.5h0M301.4 392.2h0M305.9 389.9h0M306.8 392.6h0M305.0 394.4h0M308.6 393.5h0M307.3 401.2h0M305.9 391.7h0" stroke="#1f6b98" stroke-width="3.4" stroke-linecap="round" fill="none"/><line x1="29.3" y1="313.2" x2="31.2" y2="313.2" stroke="#333" stroke-width="0.6"/><text x="28.3" y="315.5" font-size="6.6" text-anchor="end" fill="#4d4d4d">0.25</text><line x1="29.3" y1="340.1" x2="31.2" y2="340.1" stroke="#333" stroke-width="0.6"/><text x="28.3" y="342.4" font-size="6.6" text-anchor="end" fill="#4d4d4d">0.00</text><line x1="29.3" y1="367.0" x2="31.2" y2="367.0" stroke="#333" stroke-width="0.6"/><text x="28.3" y="369.3" font-size="6.6" text-anchor="end" fill="#4d4d4d">-0.25</text><line x1="29.3" y1="393.9" x2="31.2" y2="393.9" stroke="#333" stroke-width="0.6"/><text x="28.3" y="396.2" font-size="6.6" text-anchor="end" fill="#4d4d4d">-0.50</text><rect x="31.2" y="410.8" width="75.5" height="11.8" fill="#dedede"/><text x="69.0" y="421.0" font-size="10.4" text-anchor="middle" fill="#1a1a1a">Lichida</text><rect x="31.2" y="422.6" width="75.5" height="119.3" fill="#f1f1f1"/><svg x="31.2" y="422.6" width="75.5" height="119.3" overflow="hidden"><g transform="translate(-31.2,-422.6)"><line x1="45.6" y1="422.6" x2="45.6" y2="541.9" stroke="#fff" stroke-width="0.5"/><line x1="69.2" y1="422.6" x2="69.2" y2="541.9" stroke="#fff" stroke-width="0.5"/><line x1="92.8" y1="422.6" x2="92.8" y2="541.9" stroke="#fff" stroke-width="0.5"/><line x1="31.2" y1="434.8" x2="106.7" y2="434.8" stroke="#fff" stroke-width="0.5"/><line x1="31.2" y1="461.7" x2="106.7" y2="461.7" stroke="#fff" stroke-width="0.5"/><line x1="31.2" y1="488.6" x2="106.7" y2="488.6" stroke="#fff" stroke-width="0.5"/><line x1="31.2" y1="515.5" x2="106.7" y2="515.5" stroke="#fff" stroke-width="0.5"/><line x1="33.8" y1="422.6" x2="33.8" y2="541.9" stroke="#fff" stroke-width="1"/><line x1="57.4" y1="422.6" x2="57.4" y2="541.9" stroke="#fff" stroke-width="1"/><line x1="81.0" y1="422.6" x2="81.0" y2="541.9" stroke="#fff" stroke-width="1"/><line x1="104.6" y1="422.6" x2="104.6" y2="541.9" stroke="#fff" stroke-width="1"/><line x1="31.2" y1="448.2" x2="106.7" y2="448.2" stroke="#fff" stroke-width="1"/><line x1="31.2" y1="475.1" x2="106.7" y2="475.1" stroke="#fff" stroke-width="1"/><line x1="31.2" y1="502.0" x2="106.7" y2="502.0" stroke="#fff" stroke-width="1"/><line x1="31.2" y1="528.9" x2="106.7" y2="528.9" stroke="#fff" stroke-width="1"/></g></svg><use href="#cloud" x="31.2" y="422.6"/><path d="M55.4 428.6h0M58.3 437.9h0M60.1 439.4h0M61.5 445.1h0M52.2 448.7h0M52.9 451.4h0M54.0 453.2h0M56.1 453.7h0M61.1 450.8h0M62.9 449.6h0M68.3 454.1h0M53.4 457.1h0M78.5 463.4h0M68.7 464.8h0M70.1 465.2h0M71.5 469.3h0M75.5 472.9h0M52.5 467.2h0M48.6 478.3h0M53.2 477.9h0" stroke="#4c7a6a" stroke-width="3.4" stroke-linecap="round" fill="none"/><rect x="110.9" y="410.8" width="75.5" height="11.8" fill="#dedede"/><text x="148.7" y="421.0" font-size="10.4" text-anchor="middle" fill="#1a1a1a">Odontopleurida</text><rect x="110.9" y="422.6" width="75.5" height="119.3" fill="#f1f1f1"/><svg x="110.9" y="422.6" width="75.5" height="119.3" overflow="hidden"><g transform="translate(-110.9,-422.6)"><line x1="125.3" y1="422.6" x2="125.3" y2="541.9" stroke="#fff" stroke-width="0.5"/><line x1="148.9" y1="422.6" x2="148.9" y2="541.9" stroke="#fff" stroke-width="0.5"/><line x1="172.5" y1="422.6" x2="172.5" y2="541.9" stroke="#fff" stroke-width="0.5"/><line x1="110.9" y1="434.8" x2="186.4" y2="434.8" stroke="#fff" stroke-width="0.5"/><line x1="110.9" y1="461.7" x2="186.4" y2="461.7" stroke="#fff" stroke-width="0.5"/><line x1="110.9" y1="488.6" x2="186.4" y2="488.6" stroke="#fff" stroke-width="0.5"/><line x1="110.9" y1="515.5" x2="186.4" y2="515.5" stroke="#fff" stroke-width="0.5"/><line x1="113.5" y1="422.6" x2="113.5" y2="541.9" stroke="#fff" stroke-width="1"/><line x1="137.1" y1="422.6" x2="137.1" y2="541.9" stroke="#fff" stroke-width="1"/><line x1="160.7" y1="422.6" x2="160.7" y2="541.9" stroke="#fff" stroke-width="1"/><line x1="184.3" y1="422.6" x2="184.3" y2="541.9" stroke="#fff" stroke-width="1"/><line x1="110.9" y1="448.2" x2="186.4" y2="448.2" stroke="#fff" stroke-width="1"/><line x1="110.9" y1="475.1" x2="186.4" y2="475.1" stroke="#fff" stroke-width="1"/><line x1="110.9" y1="502.0" x2="186.4" y2="502.0" stroke="#fff" stroke-width="1"/><line x1="110.9" y1="528.9" x2="186.4" y2="528.9" stroke="#fff" stroke-width="1"/></g></svg><use href="#cloud" x="110.9" y="422.6"/><path d="M149.6 442.4h0M154.6 447.3h0M135.2 448.3h0M135.8 450.5h0M134.3 452.6h0M137.4 451.9h0M146.5 450.8h0M151.4 452.3h0M154.0 455.9h0M130.4 458.2h0M148.3 459.1h0M143.3 461.6h0M145.4 463.0h0M149.6 462.1h0M134.3 462.1h0M134.0 465.2h0M159.4 463.4h0M149.6 467.5h0M148.3 469.3h0M152.6 471.6h0M130.7 482.8h0M145.1 486.4h0" stroke="#c49530" stroke-width="3.4" stroke-linecap="round" fill="none"/><rect x="190.6" y="410.8" width="75.5" height="11.8" fill="#dedede"/><text x="228.3" y="421.0" font-size="10.4" text-anchor="middle" fill="#1a1a1a">Olenida</text><rect x="190.6" y="422.6" width="75.5" height="119.3" fill="#f1f1f1"/><svg x="190.6" y="422.6" width="75.5" height="119.3" overflow="hidden"><g transform="translate(-190.6,-422.6)"><line x1="205.0" y1="422.6" x2="205.0" y2="541.9" stroke="#fff" stroke-width="0.5"/><line x1="228.6" y1="422.6" x2="228.6" y2="541.9" stroke="#fff" stroke-width="0.5"/><line x1="252.2" y1="422.6" x2="252.2" y2="541.9" stroke="#fff" stroke-width="0.5"/><line x1="190.6" y1="434.8" x2="266.1" y2="434.8" stroke="#fff" stroke-width="0.5"/><line x1="190.6" y1="461.7" x2="266.1" y2="461.7" stroke="#fff" stroke-width="0.5"/><line x1="190.6" y1="488.6" x2="266.1" y2="488.6" stroke="#fff" stroke-width="0.5"/><line x1="190.6" y1="515.5" x2="266.1" y2="515.5" stroke="#fff" stroke-width="0.5"/><line x1="193.2" y1="422.6" x2="193.2" y2="541.9" stroke="#fff" stroke-width="1"/><line x1="216.8" y1="422.6" x2="216.8" y2="541.9" stroke="#fff" stroke-width="1"/><line x1="240.4" y1="422.6" x2="240.4" y2="541.9" stroke="#fff" stroke-width="1"/><line x1="264.0" y1="422.6" x2="264.0" y2="541.9" stroke="#fff" stroke-width="1"/><line x1="190.6" y1="448.2" x2="266.1" y2="448.2" stroke="#fff" stroke-width="1"/><line x1="190.6" y1="475.1" x2="266.1" y2="475.1" stroke="#fff" stroke-width="1"/><line x1="190.6" y1="502.0" x2="266.1" y2="502.0" stroke="#fff" stroke-width="1"/><line x1="190.6" y1="528.9" x2="266.1" y2="528.9" stroke="#fff" stroke-width="1"/></g></svg><use href="#cloud" x="190.6" y="422.6"/><path d="M216.9 442.4h0M211.5 450.1h0M210.3 452.6h0M213.3 451.9h0M214.8 455.5h0M209.4 455.2h0M219.6 452.3h0M223.2 451.6h0M226.8 454.1h0M224.4 456.9h0M233.9 448.7h0M235.7 451.9h0M234.8 453.7h0M218.7 458.6h0M219.6 461.6h0M214.2 463.9h0M208.8 467.5h0M210.6 468.1h0M207.9 472.0h0M203.5 473.4h0M213.3 472.4h0M216.9 468.4h0M218.7 467.5h0M221.4 464.8h0M217.8 472.9h0M220.5 472.0h0M223.2 471.1h0M222.8 473.8h0M228.2 470.8h0M232.7 467.5h0M233.0 472.9h0M234.5 471.1h0M238.1 465.2h0M247.4 460.4h0M248.3 459.5h0M250.6 473.8h0M206.1 477.4h0M207.0 480.1h0M206.5 481.9h0M221.4 477.0h0M224.1 478.3h0M225.9 477.4h0M228.0 477.7h0M218.3 481.0h0M230.9 481.9h0M232.5 484.2h0M237.5 482.4h0M202.6 487.8h0M254.2 498.0h0M246.0 510.6h0M225.0 519.0h0" stroke="#e2a947" stroke-width="3.4" stroke-linecap="round" fill="none"/><rect x="270.3" y="410.8" width="75.5" height="11.8" fill="#dedede"/><text x="308.1" y="421.0" font-size="10.4" text-anchor="middle" fill="#1a1a1a">Phacopida</text><rect x="270.3" y="422.6" width="75.5" height="119.3" fill="#f1f1f1"/><svg x="270.3" y="422.6" width="75.5" height="119.3" overflow="hidden"><g transform="translate(-270.3,-422.6)"><line x1="284.7" y1="422.6" x2="284.7" y2="541.9" stroke="#fff" stroke-width="0.5"/><line x1="308.3" y1="422.6" x2="308.3" y2="541.9" stroke="#fff" stroke-width="0.5"/><line x1="331.9" y1="422.6" x2="331.9" y2="541.9" stroke="#fff" stroke-width="0.5"/><line x1="270.3" y1="434.8" x2="345.8" y2="434.8" stroke="#fff" stroke-width="0.5"/><line x1="270.3" y1="461.7" x2="345.8" y2="461.7" stroke="#fff" stroke-width="0.5"/><line x1="270.3" y1="488.6" x2="345.8" y2="488.6" stroke="#fff" stroke-width="0.5"/><line x1="270.3" y1="515.5" x2="345.8" y2="515.5" stroke="#fff" stroke-width="0.5"/><line x1="272.9" y1="422.6" x2="272.9" y2="541.9" stroke="#fff" stroke-width="1"/><line x1="296.5" y1="422.6" x2="296.5" y2="541.9" stroke="#fff" stroke-width="1"/><line x1="320.1" y1="422.6" x2="320.1" y2="541.9" stroke="#fff" stroke-width="1"/><line x1="343.7" y1="422.6" x2="343.7" y2="541.9" stroke="#fff" stroke-width="1"/><line x1="270.3" y1="448.2" x2="345.8" y2="448.2" stroke="#fff" stroke-width="1"/><line x1="270.3" y1="475.1" x2="345.8" y2="475.1" stroke="#fff" stroke-width="1"/><line x1="270.3" y1="502.0" x2="345.8" y2="502.0" stroke="#fff" stroke-width="1"/><line x1="270.3" y1="528.9" x2="345.8" y2="528.9" stroke="#fff" stroke-width="1"/></g></svg><use href="#cloud" x="270.3" y="422.6"/><path d="M287.3 470.8h0M310.6 487.5h0M307.0 471.5h0M301.4 472.5h0M287.9 480.4h0M291.7 483.9h0M288.7 494.7h0M292.6 478.4h0M300.0 479.3h0M308.2 479.6h0M310.8 452.4h0M291.5 489.3h0M311.5 481.9h0M302.0 482.4h0M299.7 476.3h0M289.3 479.4h0M294.8 472.7h0M301.8 477.0h0M290.3 479.1h0M292.2 484.5h0M295.1 464.3h0M309.3 456.8h0M303.2 463.8h0M286.0 462.5h0M284.2 479.5h0M302.9 450.9h0M293.5 453.0h0M292.7 472.9h0M296.8 469.3h0M287.7 459.0h0M287.6 472.4h0M308.3 466.6h0M313.2 464.7h0M304.9 485.8h0M286.0 497.1h0M284.0 464.0h0M284.3 491.0h0M303.5 478.4h0M289.5 490.5h0M297.1 472.5h0M298.1 485.4h0M309.4 482.4h0M309.3 476.7h0M302.5 482.0h0M285.4 479.7h0M291.2 452.8h0M304.9 476.4h0M304.6 464.7h0M304.7 454.3h0M300.2 486.1h0M312.2 456.8h0M299.5 485.8h0M291.6 455.8h0M283.9 480.6h0M306.4 482.2h0M299.8 448.8h0M305.6 455.5h0M304.2 475.3h0M312.5 468.5h0M308.0 480.6h0M300.5 463.9h0M310.0 484.3h0M299.1 481.2h0M299.0 472.5h0M299.3 462.8h0M300.6 482.4h0M284.8 487.7h0M296.0 452.8h0M294.8 451.4h0M291.4 486.1h0M293.1 466.6h0M294.1 470.7h0M297.6 474.1h0M302.2 446.3h0M285.0 479.7h0M294.2 461.0h0M294.1 480.9h0M309.5 465.2h0M290.2 483.1h0M282.1 470.1h0M283.3 477.9h0M304.9 484.0h0M284.6 473.3h0M292.3 480.7h0M305.7 487.0h0M284.8 479.6h0M289.5 461.8h0M308.2 484.2h0M306.4 456.5h0M284.5 477.7h0M280.8 494.5h0M300.5 470.7h0M302.3 472.1h0M298.4 483.0h0M289.0 473.7h0M302.1 486.7h0M282.0 492.5h0M291.7 467.7h0M307.2 456.2h0M299.2 481.3h0M290.6 464.4h0M291.0 486.3h0M301.3 463.0h0M307.3 465.7h0M304.8 482.6h0M295.7 479.2h0M298.1 482.0h0M305.1 478.4h0M289.3 475.0h0M310.6 456.3h0M311.0 476.9h0M282.4 481.6h0M309.2 468.4h0M291.9 471.1h0M304.5 448.6h0M293.8 476.1h0M299.1 460.7h0M312.0 480.0h0M297.5 474.2h0M281.7 496.2h0M290.7 479.8h0M299.6 487.6h0M299.4 453.3h0M303.7 474.6h0M294.9 450.6h0M280.4 491.3h0M287.7 478.1h0M304.1 487.6h0M313.0 463.9h0M301.7 469.4h0M290.4 457.6h0M287.8 473.3h0M287.1 468.9h0M305.2 466.0h0M299.4 487.9h0M306.1 488.0h0M292.6 457.2h0M299.8 472.1h0M311.8 484.0h0M293.0 471.7h0M294.4 481.8h0M284.3 472.0h0M304.1 474.0h0M290.5 480.1h0M301.6 480.2h0M312.5 453.0h0M303.3 447.1h0M300.6 483.4h0M295.7 463.9h0M292.7 464.9h0M289.4 463.0h0M285.6 481.0h0M288.3 480.3h0M300.1 454.1h0M292.8 458.3h0M310.4 469.4h0M300.7 454.8h0M304.2 469.3h0M311.2 464.3h0M301.5 468.1h0M300.8 470.4h0M306.7 469.8h0M283.9 495.2h0M299.3 487.4h0M308.8 474.6h0M307.6 456.8h0M283.4 485.6h0M300.6 469.9h0M297.4 450.4h0M307.1 459.1h0M288.2 457.8h0M293.1 476.4h0M292.9 484.4h0M286.7 489.3h0M285.1 475.6h0M293.1 483.5h0M294.8 476.0h0M302.7 483.6h0M287.5 494.6h0M304.3 466.7h0M299.7 452.2h0M311.0 484.4h0M284.6 481.0h0M290.5 466.5h0M289.0 468.2h0M297.9 482.6h0M292.1 470.1h0M300.9 446.3h0M285.4 471.9h0M292.9 468.9h0M285.4 484.8h0M285.7 462.5h0M292.4 485.7h0M292.7 472.8h0M287.0 475.3h0M285.4 493.7h0M300.0 463.2h0M287.9 485.6h0M291.3 481.2h0M310.1 453.0h0M308.7 476.3h0M308.5 473.0h0M286.2 479.7h0M294.5 452.2h0M312.8 455.5h0M311.2 470.0h0M305.7 466.1h0M306.6 452.7h0M294.3 469.5h0M304.8 471.7h0M294.2 472.2h0M300.6 477.5h0M295.7 471.9h0M300.4 476.3h0M288.0 472.2h0M294.5 470.3h0M304.2 460.1h0M288.9 494.8h0M299.0 449.0h0M285.7 483.4h0M289.2 478.4h0M304.4 453.8h0M297.7 449.0h0M285.1 468.3h0M295.8 457.4h0M284.8 472.8h0M309.0 466.5h0M283.7 474.5h0M308.8 487.8h0M300.6 453.1h0M293.5 472.2h0M306.9 477.5h0M310.0 479.2h0M295.9 463.5h0M287.6 486.5h0M283.4 482.0h0M307.1 450.9h0M286.1 482.0h0M289.2 462.6h0M292.7 477.5h0M287.0 489.8h0M283.7 478.2h0M305.8 467.1h0M284.9 467.9h0M311.4 463.0h0M301.7 486.1h0M303.5 460.4h0M285.3 492.1h0M309.5 486.0h0M309.8 455.1h0M285.0 486.3h0M306.8 464.8h0M298.0 478.6h0M295.9 480.3h0M305.7 475.1h0M300.3 456.3h0M312.3 456.6h0M299.2 448.2h0M305.2 474.4h0M300.0 469.2h0M273.6 445.6h0M325.6 506.1h0M280.8 503.4h0M283.5 502.5h0" stroke="#c8c59b" stroke-width="3.4" stroke-linecap="round" fill="none"/><line x1="29.3" y1="448.2" x2="31.2" y2="448.2" stroke="#333" stroke-width="0.6"/><text x="28.3" y="450.5" font-size="6.6" text-anchor="end" fill="#4d4d4d">0.25</text><line x1="29.3" y1="475.1" x2="31.2" y2="475.1" stroke="#333" stroke-width="0.6"/><text x="28.3" y="477.4" font-size="6.6" text-anchor="end" fill="#4d4d4d">0.00</text><line x1="29.3" y1="502.0" x2="31.2" y2="502.0" stroke="#333" stroke-width="0.6"/><text x="28.3" y="504.3" font-size="6.6" text-anchor="end" fill="#4d4d4d">-0.25</text><line x1="29.3" y1="528.9" x2="31.2" y2="528.9" stroke="#333" stroke-width="0.6"/><text x="28.3" y="531.2" font-size="6.6" text-anchor="end" fill="#4d4d4d">-0.50</text><rect x="31.2" y="545.8" width="75.5" height="11.8" fill="#dedede"/><text x="69.0" y="556.0" font-size="10.4" text-anchor="middle" fill="#1a1a1a">Proetida</text><rect x="31.2" y="557.6" width="75.5" height="119.3" fill="#f1f1f1"/><svg x="31.2" y="557.6" width="75.5" height="119.3" overflow="hidden"><g transform="translate(-31.2,-557.6)"><line x1="45.6" y1="557.6" x2="45.6" y2="676.9" stroke="#fff" stroke-width="0.5"/><line x1="69.2" y1="557.6" x2="69.2" y2="676.9" stroke="#fff" stroke-width="0.5"/><line x1="92.8" y1="557.6" x2="92.8" y2="676.9" stroke="#fff" stroke-width="0.5"/><line x1="31.2" y1="569.8" x2="106.7" y2="569.8" stroke="#fff" stroke-width="0.5"/><line x1="31.2" y1="596.6" x2="106.7" y2="596.6" stroke="#fff" stroke-width="0.5"/><line x1="31.2" y1="623.6" x2="106.7" y2="623.6" stroke="#fff" stroke-width="0.5"/><line x1="31.2" y1="650.5" x2="106.7" y2="650.5" stroke="#fff" stroke-width="0.5"/><line x1="33.8" y1="557.6" x2="33.8" y2="676.9" stroke="#fff" stroke-width="1"/><line x1="57.4" y1="557.6" x2="57.4" y2="676.9" stroke="#fff" stroke-width="1"/><line x1="81.0" y1="557.6" x2="81.0" y2="676.9" stroke="#fff" stroke-width="1"/><line x1="104.6" y1="557.6" x2="104.6" y2="676.9" stroke="#fff" stroke-width="1"/><line x1="31.2" y1="583.2" x2="106.7" y2="583.2" stroke="#fff" stroke-width="1"/><line x1="31.2" y1="610.1" x2="106.7" y2="610.1" stroke="#fff" stroke-width="1"/><line x1="31.2" y1="637.0" x2="106.7" y2="637.0" stroke="#fff" stroke-width="1"/><line x1="31.2" y1="663.9" x2="106.7" y2="663.9" stroke="#fff" stroke-width="1"/></g></svg><use href="#cloud" x="31.2" y="557.6"/><path d="M68.5 623.5h0M48.8 617.5h0M63.0 619.3h0M56.9 627.5h0M56.2 623.6h0M55.1 602.6h0M52.9 615.5h0M68.2 620.6h0M68.2 624.2h0M54.9 599.2h0M51.4 627.7h0M64.1 627.5h0M51.4 617.6h0M50.3 618.6h0M65.4 618.9h0M64.5 623.5h0M60.5 606.7h0M59.2 619.5h0M53.8 624.7h0M54.7 610.1h0M53.2 623.6h0M66.3 630.0h0M66.0 622.6h0M54.2 622.4h0M51.8 614.4h0M63.5 627.7h0M63.6 618.5h0M52.6 603.1h0M61.5 630.9h0M53.7 604.4h0M63.5 613.8h0M48.9 626.2h0M57.5 593.0h0M51.6 598.9h0M55.2 599.5h0M59.7 598.4h0M50.4 603.4h0M54.3 604.3h0M57.9 603.4h0M57.9 606.1h0M59.7 607.9h0M56.1 608.8h0M53.4 610.6h0M44.5 612.4h0M48.0 611.5h0M69.6 608.8h0M74.9 610.6h0M76.7 608.8h0M50.7 616.9h0M54.3 616.0h0M57.9 614.2h0M61.5 615.1h0M64.2 616.0h0M67.8 615.1h0M48.0 620.5h0M49.8 622.3h0M51.6 623.1h0M47.1 624.0h0M53.4 624.9h0M57.0 622.3h0M59.7 622.8h0M63.3 622.3h0M70.5 621.4h0M73.2 623.1h0M45.3 625.8h0M48.9 627.6h0M52.5 628.5h0M57.9 630.3h0M63.3 632.1h0M66.9 631.2h0M68.7 628.5h0M71.4 626.7h0M42.7 630.3h0M48.4 632.5h0M43.6 634.8h0M67.8 634.8h0M78.0 641.4h0M52.5 618.7h0M56.1 618.7h0M48.9 618.7h0M50.7 625.8h0M55.2 626.7h0M60.6 626.7h0M65.1 628.5h0M47.1 616.9h0" stroke="#b4e9dc" stroke-width="3.4" stroke-linecap="round" fill="none"/><rect x="110.9" y="545.8" width="75.5" height="11.8" fill="#dedede"/><text x="148.7" y="556.0" font-size="10.4" text-anchor="middle" fill="#1a1a1a">Redlichiida</text><rect x="110.9" y="557.6" width="75.5" height="119.3" fill="#f1f1f1"/><svg x="110.9" y="557.6" width="75.5" height="119.3" overflow="hidden"><g transform="translate(-110.9,-557.6)"><line x1="125.3" y1="557.6" x2="125.3" y2="676.9" stroke="#fff" stroke-width="0.5"/><line x1="148.9" y1="557.6" x2="148.9" y2="676.9" stroke="#fff" stroke-width="0.5"/><line x1="172.5" y1="557.6" x2="172.5" y2="676.9" stroke="#fff" stroke-width="0.5"/><line x1="110.9" y1="569.8" x2="186.4" y2="569.8" stroke="#fff" stroke-width="0.5"/><line x1="110.9" y1="596.6" x2="186.4" y2="596.6" stroke="#fff" stroke-width="0.5"/><line x1="110.9" y1="623.6" x2="186.4" y2="623.6" stroke="#fff" stroke-width="0.5"/><line x1="110.9" y1="650.5" x2="186.4" y2="650.5" stroke="#fff" stroke-width="0.5"/><line x1="113.5" y1="557.6" x2="113.5" y2="676.9" stroke="#fff" stroke-width="1"/><line x1="137.1" y1="557.6" x2="137.1" y2="676.9" stroke="#fff" stroke-width="1"/><line x1="160.7" y1="557.6" x2="160.7" y2="676.9" stroke="#fff" stroke-width="1"/><line x1="184.3" y1="557.6" x2="184.3" y2="676.9" stroke="#fff" stroke-width="1"/><line x1="110.9" y1="583.2" x2="186.4" y2="583.2" stroke="#fff" stroke-width="1"/><line x1="110.9" y1="610.1" x2="186.4" y2="610.1" stroke="#fff" stroke-width="1"/><line x1="110.9" y1="637.0" x2="186.4" y2="637.0" stroke="#fff" stroke-width="1"/><line x1="110.9" y1="663.9" x2="186.4" y2="663.9" stroke="#fff" stroke-width="1"/></g></svg><use href="#cloud" x="110.9" y="557.6"/><path d="M159.8 568.1h0M142.9 582.4h0M146.0 590.0h0M144.2 591.8h0M139.7 593.6h0M137.9 594.5h0M148.7 594.5h0M151.9 592.3h0M134.3 597.1h0M133.4 599.5h0M131.6 600.7h0M142.4 597.7h0M139.7 599.8h0M141.5 602.0h0M145.1 602.5h0M146.9 604.3h0M149.6 603.4h0M151.9 606.1h0M144.2 607.0h0M147.8 608.4h0M158.5 607.0h0M159.4 606.6h0M128.0 610.6h0M126.2 611.5h0M137.9 611.5h0M137.0 613.3h0M132.2 617.4h0M142.4 616.9h0M146.0 616.0h0M140.6 620.5h0M143.3 621.4h0M145.1 623.1h0M149.6 619.2h0M150.5 622.8h0M153.2 623.1h0M140.6 624.0h0M123.6 620.5h0M125.3 625.3h0M122.1 628.5h0M155.5 628.9h0M162.7 624.9h0M169.3 622.3h0M149.6 647.4h0M150.5 648.6h0" stroke="#6b9f9f" stroke-width="3.4" stroke-linecap="round" fill="none"/><rect x="190.6" y="545.8" width="75.5" height="11.8" fill="#dedede"/><text x="228.3" y="556.0" font-size="10.4" text-anchor="middle" fill="#1a1a1a">Trinucleida</text><rect x="190.6" y="557.6" width="75.5" height="119.3" fill="#f1f1f1"/><svg x="190.6" y="557.6" width="75.5" height="119.3" overflow="hidden"><g transform="translate(-190.6,-557.6)"><line x1="205.0" y1="557.6" x2="205.0" y2="676.9" stroke="#fff" stroke-width="0.5"/><line x1="228.6" y1="557.6" x2="228.6" y2="676.9" stroke="#fff" stroke-width="0.5"/><line x1="252.2" y1="557.6" x2="252.2" y2="676.9" stroke="#fff" stroke-width="0.5"/><line x1="190.6" y1="569.8" x2="266.1" y2="569.8" stroke="#fff" stroke-width="0.5"/><line x1="190.6" y1="596.6" x2="266.1" y2="596.6" stroke="#fff" stroke-width="0.5"/><line x1="190.6" y1="623.6" x2="266.1" y2="623.6" stroke="#fff" stroke-width="0.5"/><line x1="190.6" y1="650.5" x2="266.1" y2="650.5" stroke="#fff" stroke-width="0.5"/><line x1="193.2" y1="557.6" x2="193.2" y2="676.9" stroke="#fff" stroke-width="1"/><line x1="216.8" y1="557.6" x2="216.8" y2="676.9" stroke="#fff" stroke-width="1"/><line x1="240.4" y1="557.6" x2="240.4" y2="676.9" stroke="#fff" stroke-width="1"/><line x1="264.0" y1="557.6" x2="264.0" y2="676.9" stroke="#fff" stroke-width="1"/><line x1="190.6" y1="583.2" x2="266.1" y2="583.2" stroke="#fff" stroke-width="1"/><line x1="190.6" y1="610.1" x2="266.1" y2="610.1" stroke="#fff" stroke-width="1"/><line x1="190.6" y1="637.0" x2="266.1" y2="637.0" stroke="#fff" stroke-width="1"/><line x1="190.6" y1="663.9" x2="266.1" y2="663.9" stroke="#fff" stroke-width="1"/></g></svg><use href="#cloud" x="190.6" y="557.6"/><path d="M231.3 590.5h0M210.3 598.9h0M218.2 597.5h0M216.4 602.5h0M231.6 600.7h0M238.8 598.6h0M193.9 607.5h0M206.1 608.3h0M205.8 610.2h0M221.9 609.3h0M224.1 611.5h0M227.7 608.8h0M222.3 613.8h0M231.6 611.7h0M238.1 612.4h0M204.3 616.3h0M206.5 616.5h0M208.5 618.5h0M229.8 616.9h0M239.3 617.8h0M242.4 618.5h0M216.4 622.4h0M234.8 623.5h0M236.6 624.6h0M204.7 627.3h0M244.2 629.1h0M217.3 631.0h0M235.7 630.0h0M235.2 631.6h0M238.4 635.2h0M262.6 632.3h0M203.5 638.4h0M249.6 638.2h0M242.9 646.1h0M258.3 651.1h0" stroke="#2e403c" stroke-width="3.4" stroke-linecap="round" fill="none"/><rect x="270.3" y="545.8" width="75.5" height="11.8" fill="#dedede"/><text x="308.1" y="556.0" font-size="10.4" text-anchor="middle" fill="#1a1a1a">Unassigned</text><rect x="270.3" y="557.6" width="75.5" height="119.3" fill="#f1f1f1"/><svg x="270.3" y="557.6" width="75.5" height="119.3" overflow="hidden"><g transform="translate(-270.3,-557.6)"><line x1="284.7" y1="557.6" x2="284.7" y2="676.9" stroke="#fff" stroke-width="0.5"/><line x1="308.3" y1="557.6" x2="308.3" y2="676.9" stroke="#fff" stroke-width="0.5"/><line x1="331.9" y1="557.6" x2="331.9" y2="676.9" stroke="#fff" stroke-width="0.5"/><line x1="270.3" y1="569.8" x2="345.8" y2="569.8" stroke="#fff" stroke-width="0.5"/><line x1="270.3" y1="596.6" x2="345.8" y2="596.6" stroke="#fff" stroke-width="0.5"/><line x1="270.3" y1="623.6" x2="345.8" y2="623.6" stroke="#fff" stroke-width="0.5"/><line x1="270.3" y1="650.5" x2="345.8" y2="650.5" stroke="#fff" stroke-width="0.5"/><line x1="272.9" y1="557.6" x2="272.9" y2="676.9" stroke="#fff" stroke-width="1"/><line x1="296.5" y1="557.6" x2="296.5" y2="676.9" stroke="#fff" stroke-width="1"/><line x1="320.1" y1="557.6" x2="320.1" y2="676.9" stroke="#fff" stroke-width="1"/><line x1="343.7" y1="557.6" x2="343.7" y2="676.9" stroke="#fff" stroke-width="1"/><line x1="270.3" y1="583.2" x2="345.8" y2="583.2" stroke="#fff" stroke-width="1"/><line x1="270.3" y1="610.1" x2="345.8" y2="610.1" stroke="#fff" stroke-width="1"/><line x1="270.3" y1="637.0" x2="345.8" y2="637.0" stroke="#fff" stroke-width="1"/><line x1="270.3" y1="663.9" x2="345.8" y2="663.9" stroke="#fff" stroke-width="1"/></g></svg><use href="#cloud" x="270.3" y="557.6"/><path d="M286.1 586.9h0M296.9 585.1h0M304.4 582.3h0M299.6 590.0h0M301.4 590.9h0M297.3 593.6h0M301.4 594.8h0M309.5 594.8h0M289.7 595.4h0M291.5 596.6h0M288.8 598.0h0M292.4 598.9h0M296.0 598.4h0M299.6 599.8h0M297.8 601.3h0M311.8 599.8h0M287.6 602.0h0M289.7 603.1h0M286.1 604.3h0M287.9 605.2h0M293.3 605.2h0M295.1 607.0h0M303.2 607.0h0M309.8 607.9h0M316.6 608.4h0M317.2 603.4h0M287.9 607.9h0M289.7 609.7h0M287.0 613.3h0M289.4 612.7h0M297.8 613.3h0M285.2 617.8h0M299.6 617.8h0M300.9 619.6h0M294.2 622.3h0M292.4 628.9h0M278.1 630.7h0M275.9 637.9h0M293.9 642.5h0" stroke="#000000" stroke-width="3.4" stroke-linecap="round" fill="none"/><line x1="29.3" y1="583.2" x2="31.2" y2="583.2" stroke="#333" stroke-width="0.6"/><text x="28.3" y="585.5" font-size="6.6" text-anchor="end" fill="#4d4d4d">0.25</text><line x1="29.3" y1="610.1" x2="31.2" y2="610.1" stroke="#333" stroke-width="0.6"/><text x="28.3" y="612.4" font-size="6.6" text-anchor="end" fill="#4d4d4d">0.00</text><line x1="29.3" y1="637.0" x2="31.2" y2="637.0" stroke="#333" stroke-width="0.6"/><text x="28.3" y="639.3" font-size="6.6" text-anchor="end" fill="#4d4d4d">-0.25</text><line x1="29.3" y1="663.9" x2="31.2" y2="663.9" stroke="#333" stroke-width="0.6"/><text x="28.3" y="666.2" font-size="6.6" text-anchor="end" fill="#4d4d4d">-0.50</text><line x1="33.8" y1="676.9" x2="33.8" y2="678.8" stroke="#333" stroke-width="0.6"/><text x="33.8" y="685.6" font-size="6.6" text-anchor="middle" fill="#4d4d4d">-0.5</text><line x1="57.4" y1="676.9" x2="57.4" y2="678.8" stroke="#333" stroke-width="0.6"/><text x="57.4" y="685.6" font-size="6.6" text-anchor="middle" fill="#4d4d4d">0.0</text><line x1="81.0" y1="676.9" x2="81.0" y2="678.8" stroke="#333" stroke-width="0.6"/><text x="81.0" y="685.6" font-size="6.6" text-anchor="middle" fill="#4d4d4d">0.5</text><line x1="104.6" y1="676.9" x2="104.6" y2="678.8" stroke="#333" stroke-width="0.6"/><text x="104.6" y="685.6" font-size="6.6" text-anchor="middle" fill="#4d4d4d">1.0</text><line x1="113.5" y1="676.9" x2="113.5" y2="678.8" stroke="#333" stroke-width="0.6"/><text x="113.5" y="685.6" font-size="6.6" text-anchor="middle" fill="#4d4d4d">-0.5</text><line x1="137.1" y1="676.9" x2="137.1" y2="678.8" stroke="#333" stroke-width="0.6"/><text x="137.1" y="685.6" font-size="6.6" text-anchor="middle" fill="#4d4d4d">0.0</text><line x1="160.7" y1="676.9" x2="160.7" y2="678.8" stroke="#333" stroke-width="0.6"/><text x="160.7" y="685.6" font-size="6.6" text-anchor="middle" fill="#4d4d4d">0.5</text><line x1="184.3" y1="676.9" x2="184.3" y2="678.8" stroke="#333" stroke-width="0.6"/><text x="184.3" y="685.6" font-size="6.6" text-anchor="middle" fill="#4d4d4d">1.0</text><line x1="193.2" y1="676.9" x2="193.2" y2="678.8" stroke="#333" stroke-width="0.6"/><text x="193.2" y="685.6" font-size="6.6" text-anchor="middle" fill="#4d4d4d">-0.5</text><line x1="216.8" y1="676.9" x2="216.8" y2="678.8" stroke="#333" stroke-width="0.6"/><text x="216.8" y="685.6" font-size="6.6" text-anchor="middle" fill="#4d4d4d">0.0</text><line x1="240.4" y1="676.9" x2="240.4" y2="678.8" stroke="#333" stroke-width="0.6"/><text x="240.4" y="685.6" font-size="6.6" text-anchor="middle" fill="#4d4d4d">0.5</text><line x1="264.0" y1="676.9" x2="264.0" y2="678.8" stroke="#333" stroke-width="0.6"/><text x="264.0" y="685.6" font-size="6.6" text-anchor="middle" fill="#4d4d4d">1.0</text><line x1="272.9" y1="676.9" x2="272.9" y2="678.8" stroke="#333" stroke-width="0.6"/><text x="272.9" y="685.6" font-size="6.6" text-anchor="middle" fill="#4d4d4d">-0.5</text><line x1="296.5" y1="676.9" x2="296.5" y2="678.8" stroke="#333" stroke-width="0.6"/><text x="296.5" y="685.6" font-size="6.6" text-anchor="middle" fill="#4d4d4d">0.0</text><line x1="320.1" y1="676.9" x2="320.1" y2="678.8" stroke="#333" stroke-width="0.6"/><text x="320.1" y="685.6" font-size="6.6" text-anchor="middle" fill="#4d4d4d">0.5</text><line x1="343.7" y1="676.9" x2="343.7" y2="678.8" stroke="#333" stroke-width="0.6"/><text x="343.7" y="685.6" font-size="6.6" text-anchor="middle" fill="#4d4d4d">1.0</text><text x="189" y="696.6" font-size="10.5" text-anchor="middle" fill="#000">PC1</text><text transform="translate(11.6,479.5) rotate(-90)" font-size="10.5" text-anchor="middle" fill="#000">PC2</text><text x="3.7" y="293.1" font-size="18" font-weight="bold" fill="#000">B</text><rect x="379.2" y="275.1" width="302.4" height="304.6" fill="#f1f1f1"/><line x1="379.2" y1="521.5" x2="681.6" y2="521.5" stroke="#fff" stroke-width="0.5"/><line x1="379.2" y1="433.0" x2="681.6" y2="433.0" stroke="#fff" stroke-width="0.5"/><line x1="379.2" y1="344.5" x2="681.6" y2="344.5" stroke="#fff" stroke-width="0.5"/><line x1="379.2" y1="565.8" x2="681.6" y2="565.8" stroke="#fff" stroke-width="1"/><line x1="379.2" y1="477.3" x2="681.6" y2="477.3" stroke="#fff" stroke-width="1"/><line x1="379.2" y1="388.8" x2="681.6" y2="388.8" stroke="#fff" stroke-width="1"/><line x1="379.2" y1="300.3" x2="681.6" y2="300.3" stroke="#fff" stroke-width="1"/><line x1="394.1" y1="275.1" x2="394.1" y2="579.7" stroke="#fff" stroke-width="1"/><line x1="418.9" y1="275.1" x2="418.9" y2="579.7" stroke="#fff" stroke-width="1"/><line x1="443.6" y1="275.1" x2="443.6" y2="579.7" stroke="#fff" stroke-width="1"/><line x1="468.4" y1="275.1" x2="468.4" y2="579.7" stroke="#fff" stroke-width="1"/><line x1="493.2" y1="275.1" x2="493.2" y2="579.7" stroke="#fff" stroke-width="1"/><line x1="518.0" y1="275.1" x2="518.0" y2="579.7" stroke="#fff" stroke-width="1"/><line x1="542.8" y1="275.1" x2="542.8" y2="579.7" stroke="#fff" stroke-width="1"/><line x1="567.6" y1="275.1" x2="567.6" y2="579.7" stroke="#fff" stroke-width="1"/><line x1="592.4" y1="275.1" x2="592.4" y2="579.7" stroke="#fff" stroke-width="1"/><line x1="617.2" y1="275.1" x2="617.2" y2="579.7" stroke="#fff" stroke-width="1"/><line x1="641.9" y1="275.1" x2="641.9" y2="579.7" stroke="#fff" stroke-width="1"/><line x1="666.7" y1="275.1" x2="666.7" y2="579.7" stroke="#fff" stroke-width="1"/><rect x="382.9" y="289.2" width="22.3" height="276.6" fill="#504c4b"/><text x="394.1" y="289.6" font-size="7.3" text-anchor="middle" fill="#000">0.625</text><rect x="407.7" y="459.6" width="22.3" height="106.2" fill="#504c4b"/><text x="418.9" y="460.0" font-size="7.3" text-anchor="middle" fill="#000">0.865</text><rect x="432.5" y="547.2" width="22.3" height="18.6" fill="#504c4b"/><text x="443.6" y="547.6" font-size="7.3" text-anchor="middle" fill="#000">0.907</text><rect x="457.3" y="551.6" width="22.3" height="14.2" fill="#504c4b"/><text x="468.4" y="552.0" font-size="7.3" text-anchor="middle" fill="#000">0.939</text><rect x="482.1" y="557.4" width="22.3" height="8.4" fill="#504c4b"/><text x="493.2" y="557.8" font-size="7.3" text-anchor="middle" fill="#000">0.958</text><rect x="506.9" y="560.5" width="22.3" height="5.3" fill="#504c4b"/><text x="518.0" y="560.9" font-size="7.3" text-anchor="middle" fill="#000">0.97</text><rect x="531.6" y="563.1" width="22.3" height="2.7" fill="#504c4b"/><text x="542.8" y="563.5" font-size="7.3" text-anchor="middle" fill="#000">0.976</text><rect x="556.4" y="564.0" width="22.3" height="1.8" fill="#504c4b"/><text x="567.6" y="564.4" font-size="7.3" text-anchor="middle" fill="#000">0.98</text><rect x="581.2" y="564.5" width="22.3" height="1.3" fill="#504c4b"/><text x="592.4" y="564.9" font-size="7.3" text-anchor="middle" fill="#000">0.983</text><rect x="606.0" y="564.5" width="22.3" height="1.3" fill="#504c4b"/><text x="617.2" y="564.9" font-size="7.3" text-anchor="middle" fill="#000">0.986</text><rect x="630.8" y="564.9" width="22.3" height="0.9" fill="#504c4b"/><text x="641.9" y="565.3" font-size="7.3" text-anchor="middle" fill="#000">0.988</text><rect x="655.6" y="564.9" width="22.3" height="0.9" fill="#504c4b"/><text x="666.7" y="565.3" font-size="7.3" text-anchor="middle" fill="#000">0.99</text><line x1="376.9" y1="565.8" x2="379.2" y2="565.8" stroke="#333" stroke-width="0.6"/><text x="376" y="567.8" font-size="5.7" text-anchor="end" fill="#4d4d4d">0.0</text><line x1="376.9" y1="477.3" x2="379.2" y2="477.3" stroke="#333" stroke-width="0.6"/><text x="376" y="479.3" font-size="5.7" text-anchor="end" fill="#4d4d4d">0.2</text><line x1="376.9" y1="388.8" x2="379.2" y2="388.8" stroke="#333" stroke-width="0.6"/><text x="376" y="390.8" font-size="5.7" text-anchor="end" fill="#4d4d4d">0.4</text><line x1="376.9" y1="300.3" x2="379.2" y2="300.3" stroke="#333" stroke-width="0.6"/><text x="376" y="302.3" font-size="5.7" text-anchor="end" fill="#4d4d4d">0.6</text><line x1="394.1" y1="579.7" x2="394.1" y2="581.7" stroke="#333" stroke-width="0.6"/><text x="394.1" y="587.0" font-size="5.7" text-anchor="middle" fill="#4d4d4d">1</text><line x1="418.9" y1="579.7" x2="418.9" y2="581.7" stroke="#333" stroke-width="0.6"/><text x="418.9" y="587.0" font-size="5.7" text-anchor="middle" fill="#4d4d4d">2</text><line x1="443.6" y1="579.7" x2="443.6" y2="581.7" stroke="#333" stroke-width="0.6"/><text x="443.6" y="587.0" font-size="5.7" text-anchor="middle" fill="#4d4d4d">3</text><line x1="468.4" y1="579.7" x2="468.4" y2="581.7" stroke="#333" stroke-width="0.6"/><text x="468.4" y="587.0" font-size="5.7" text-anchor="middle" fill="#4d4d4d">4</text><line x1="493.2" y1="579.7" x2="493.2" y2="581.7" stroke="#333" stroke-width="0.6"/><text x="493.2" y="587.0" font-size="5.7" text-anchor="middle" fill="#4d4d4d">5</text><line x1="518.0" y1="579.7" x2="518.0" y2="581.7" stroke="#333" stroke-width="0.6"/><text x="518.0" y="587.0" font-size="5.7" text-anchor="middle" fill="#4d4d4d">6</text><line x1="542.8" y1="579.7" x2="542.8" y2="581.7" stroke="#333" stroke-width="0.6"/><text x="542.8" y="587.0" font-size="5.7" text-anchor="middle" fill="#4d4d4d">7</text><line x1="567.6" y1="579.7" x2="567.6" y2="581.7" stroke="#333" stroke-width="0.6"/><text x="567.6" y="587.0" font-size="5.7" text-anchor="middle" fill="#4d4d4d">8</text><line x1="592.4" y1="579.7" x2="592.4" y2="581.7" stroke="#333" stroke-width="0.6"/><text x="592.4" y="587.0" font-size="5.7" text-anchor="middle" fill="#4d4d4d">9</text><line x1="617.2" y1="579.7" x2="617.2" y2="581.7" stroke="#333" stroke-width="0.6"/><text x="617.2" y="587.0" font-size="5.7" text-anchor="middle" fill="#4d4d4d">10</text><line x1="641.9" y1="579.7" x2="641.9" y2="581.7" stroke="#333" stroke-width="0.6"/><text x="641.9" y="587.0" font-size="5.7" text-anchor="middle" fill="#4d4d4d">11</text><line x1="666.7" y1="579.7" x2="666.7" y2="581.7" stroke="#333" stroke-width="0.6"/><text x="666.7" y="587.0" font-size="5.7" text-anchor="middle" fill="#4d4d4d">12</text><text x="530.8" y="600.8" font-size="10.3" text-anchor="middle" fill="#000">Principle component</text><text transform="translate(363.2,432) rotate(-90)" font-size="10.3" text-anchor="middle" fill="#000">Proportion of variation</text><text x="363.4" y="293.3" font-size="18" font-weight="bold" fill="#000">D</text>
</svg></body></html>
